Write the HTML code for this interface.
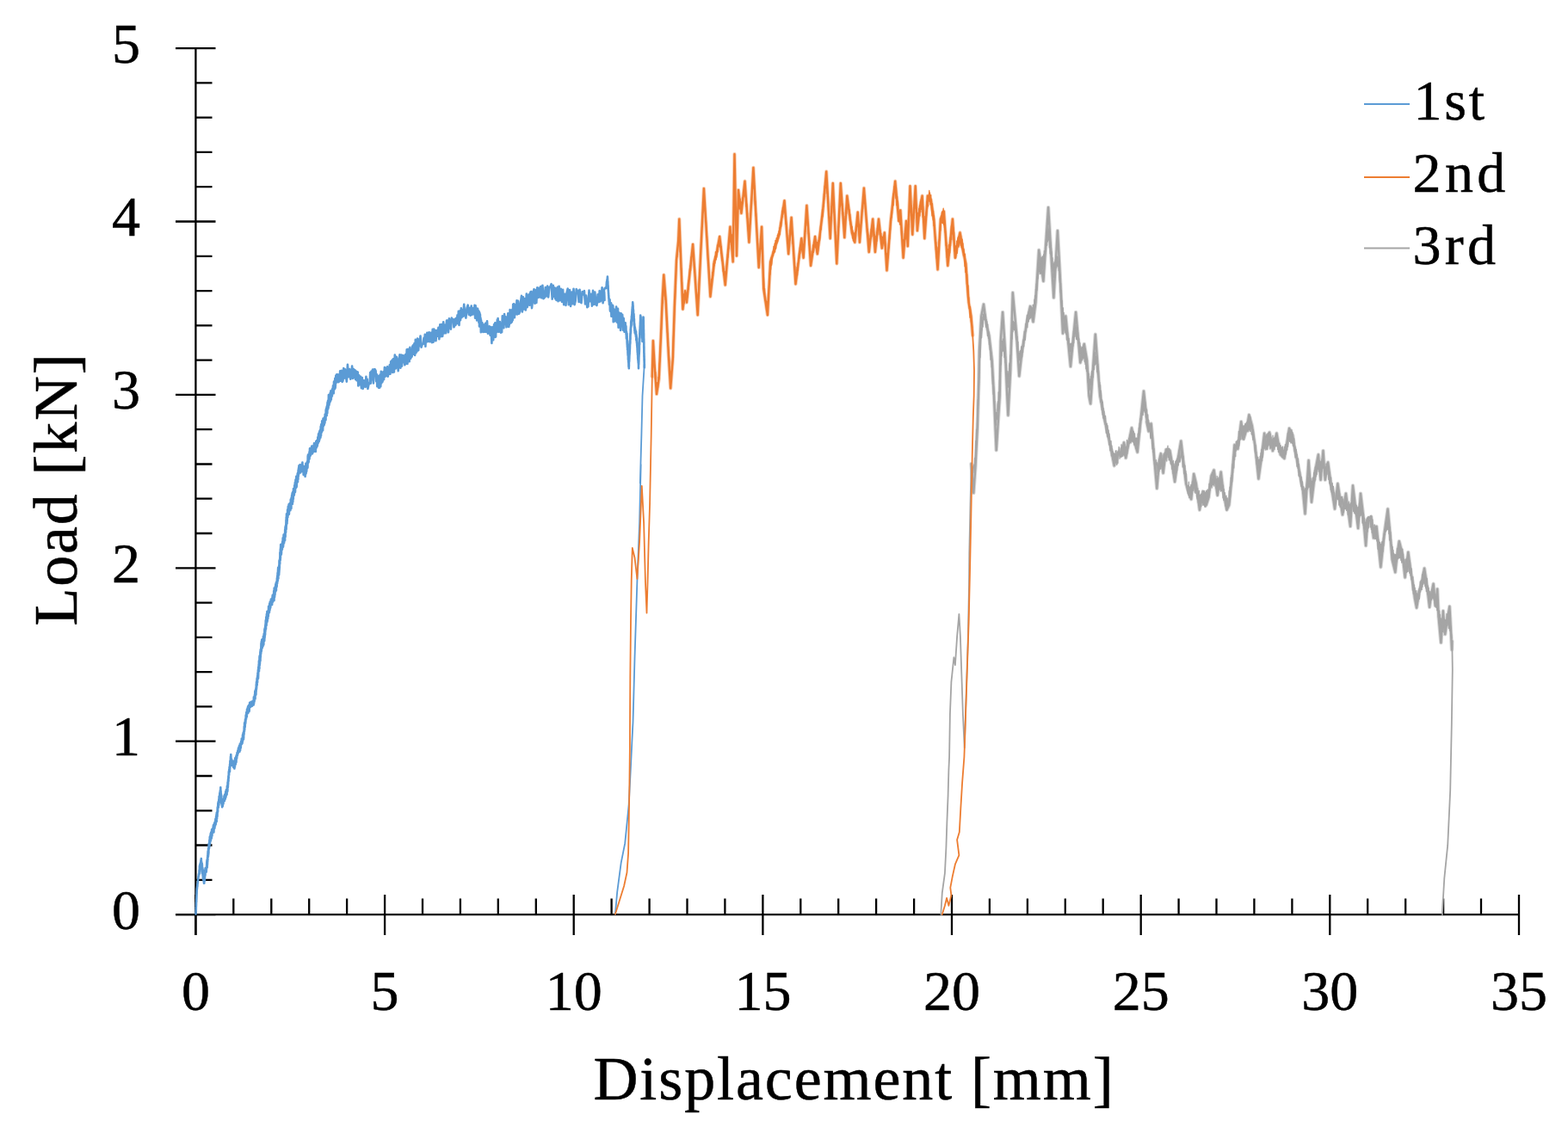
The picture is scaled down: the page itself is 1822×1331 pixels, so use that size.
<!DOCTYPE html>
<html><head><meta charset="utf-8"><title>Load - Displacement</title>
<style>
html,body{margin:0;padding:0;background:#fff;}
svg{display:block;}
text{font-family:"Liberation Serif",serif;fill:#000;stroke:#000;stroke-width:0.5px;}
.t text{font-size:66px;}
.a{font-size:72px;}
</style></head><body>
<svg width="1822" height="1331" viewBox="0 0 1822 1331">
<rect width="1822" height="1331" fill="#fff"/>
<g fill="none" stroke="#000" stroke-width="2.3"><path d="M227.4 56 V1087.1 M204 1063.1 H1765" /><path d="M227.4 1040.1V1087.1M271.3 1044.4V1063.1M315.3 1044.4V1063.1M359.2 1044.4V1063.1M403.1 1044.4V1063.1M447.1 1040.1V1087.1M491.0 1044.4V1063.1M534.9 1044.4V1063.1M578.8 1044.4V1063.1M622.8 1044.4V1063.1M666.7 1040.1V1087.1M710.6 1044.4V1063.1M754.6 1044.4V1063.1M798.5 1044.4V1063.1M842.4 1044.4V1063.1M886.4 1040.1V1087.1M930.3 1044.4V1063.1M974.2 1044.4V1063.1M1018.1 1044.4V1063.1M1062.1 1044.4V1063.1M1106.0 1040.1V1087.1M1149.9 1044.4V1063.1M1193.9 1044.4V1063.1M1237.8 1044.4V1063.1M1281.7 1044.4V1063.1M1325.7 1040.1V1087.1M1369.6 1044.4V1063.1M1413.5 1044.4V1063.1M1457.4 1044.4V1063.1M1501.4 1044.4V1063.1M1545.3 1040.1V1087.1M1589.2 1044.4V1063.1M1633.2 1044.4V1063.1M1677.1 1044.4V1063.1M1721.0 1044.4V1063.1M1765.0 1040.1V1087.1M204 1063.1H250.5M227.4 1022.8H246.5M227.4 982.5H246.5M227.4 942.3H246.5M227.4 902.0H246.5M204 861.7H250.5M227.4 821.4H246.5M227.4 781.1H246.5M227.4 740.9H246.5M227.4 700.6H246.5M204 660.3H250.5M227.4 620.0H246.5M227.4 579.7H246.5M227.4 539.5H246.5M227.4 499.2H246.5M204 458.9H250.5M227.4 418.6H246.5M227.4 378.3H246.5M227.4 338.1H246.5M227.4 297.8H246.5M204 257.5H250.5M227.4 217.2H246.5M227.4 176.9H246.5M227.4 136.7H246.5M227.4 96.4H246.5M204 56.1H250.5" /></g>
<g fill="none" stroke="#5b9bd5" stroke-linejoin="round" stroke-linecap="round"><path d="M227.5,1062.4 227.6,1060.0 227.6,1060.4 227.7,1057.3 227.8,1057.7 227.8,1054.4 227.9,1053.9 228.0,1050.8 228.0,1050.0 228.1,1048.3 228.2,1048.4 228.2,1044.9 228.3,1045.6 228.4,1041.4 228.4,1042.6 228.5,1039.2 228.6,1039.3 228.6,1038.4 228.7,1034.8 228.8,1032.5 228.9,1033.6 229.1,1030.4 229.3,1030.6 229.5,1027.3 229.7,1026.9 229.9,1025.4 230.1,1022.1 230.3,1022.4 230.5,1018.9 230.7,1019.3 230.9,1016.0 231.1,1016.2 231.3,1017.1 231.5,1011.6 231.7,1016.0 231.9,1006.5 232.1,1014.9 232.4,1004.6 232.6,1010.4 232.8,1005.0 233.0,1002.6 233.2,1006.8 233.4,1000.1 233.6,1006.6 233.8,998.0 234.0,1006.5 234.1,1001.6 234.3,1006.7 234.4,1004.4 234.6,1010.7 234.7,1003.6 234.9,1005.3 235.0,1012.5 235.2,1015.3 235.3,1008.6 235.5,1010.8 235.6,1017.8 235.8,1011.3 235.9,1021.1 236.1,1012.8 236.2,1022.7 236.4,1015.8 236.6,1024.1 236.7,1016.5 236.9,1025.4 237.0,1026.6 237.2,1019.0 237.3,1026.7 237.5,1019.2 237.6,1024.7 237.7,1016.5 237.8,1024.1 238.0,1013.7 238.1,1019.5 238.2,1011.6 238.4,1011.7 238.5,1017.5 238.6,1009.2 238.8,1014.2 239.1,1008.8 239.4,1013.1 239.7,1013.7 240.0,1009.3 240.3,1002.5 240.6,999.6 240.7,1008.5 240.8,1005.7 240.9,998.6 241.0,1005.1 241.1,996.4 241.2,1002.1 241.3,994.2 241.4,999.9 241.5,992.5 241.6,990.9 241.7,989.4 241.8,996.2 241.9,989.3 242.0,995.3 242.1,986.2 242.2,993.4 242.3,985.7 242.4,991.9 242.5,983.3 242.6,987.6 242.7,980.5 242.8,981.3 243.0,986.1 243.2,985.1 243.4,976.5 243.6,982.7 243.8,972.9 244.1,980.1 244.3,971.9 244.5,978.1 244.7,969.2 244.9,977.1 245.1,968.1 245.4,967.3 245.8,974.5 246.1,964.3 246.4,971.6 246.8,963.7 247.1,963.2 247.4,967.7 247.8,960.5 248.1,959.0 248.4,967.4 248.8,958.3 249.1,956.9 249.4,962.6 249.8,955.2 250.1,959.6 250.4,952.1 250.7,958.2 251.1,949.0 251.4,954.7 251.5,946.8 251.7,955.1 251.8,944.8 252.0,944.4 252.1,951.8 252.2,944.4 252.4,946.9 252.5,949.0 252.7,940.1 252.8,938.4 253.0,943.9 253.1,943.6 253.2,937.2 253.4,933.3 253.5,939.0 253.7,932.1 253.8,938.6 254.0,932.7 254.1,935.4 254.3,929.3 254.4,935.7 254.6,925.9 254.8,932.9 255.0,925.0 255.1,929.6 255.3,922.0 255.5,929.9 255.7,920.0 255.8,927.2 256.0,918.0 256.2,924.9 256.3,915.4 256.5,925.0 256.6,919.4 256.7,927.2 256.8,922.7 256.9,922.9 257.1,924.1 257.2,929.7 257.3,925.1 257.4,934.4 257.6,928.6 257.7,933.1 257.8,929.3 257.9,937.1 258.0,931.5 258.2,938.3 258.5,931.1 258.8,937.0 259.2,930.9 259.5,934.4 259.8,928.9 260.2,931.4 260.5,925.4 260.9,931.0 261.2,923.5 261.5,929.2 261.9,927.7 262.2,920.2 262.5,926.4 262.9,918.0 263.2,923.9 263.6,923.6 263.9,913.9 264.2,920.2 264.3,913.0 264.4,919.5 264.6,909.4 264.7,914.9 264.8,915.2 264.9,914.6 265.0,906.3 265.1,911.9 265.2,905.3 265.3,908.7 265.4,902.2 265.5,907.9 265.6,901.0 265.7,905.4 265.8,897.0 265.9,898.8 266.1,901.4 266.2,894.7 266.3,899.3 266.5,894.7 266.6,891.5 266.7,897.2 266.9,891.5 267.0,897.0 267.1,888.2 267.3,892.8 267.4,884.6 267.5,890.9 267.6,884.2 267.8,890.3 267.9,881.5 268.0,879.4 268.2,886.2 268.3,877.0 268.6,884.7 269.0,882.2 269.3,889.7 269.6,884.1 270.0,889.5 270.3,884.9 271.2,892.0 272.1,887.2 272.4,893.4 272.6,884.0 272.9,891.6 273.2,881.4 273.4,889.2 273.7,881.2 273.9,888.1 274.2,879.9 274.5,886.0 274.7,878.1 275.0,881.1 275.2,881.5 275.5,875.0 275.9,878.2 276.3,872.6 276.6,876.0 277.0,869.5 277.4,874.3 277.8,868.2 278.1,866.7 278.5,873.7 278.9,864.6 279.2,871.9 279.5,864.5 279.8,869.3 280.1,862.0 280.4,865.5 280.8,858.5 281.1,864.6 281.4,858.8 281.7,863.7 282.0,854.4 282.3,860.6 282.6,852.0 282.9,852.5 283.1,858.9 283.2,850.2 283.3,849.9 283.4,854.0 283.5,853.2 283.7,846.6 283.8,844.0 283.9,850.3 284.0,849.9 284.1,840.5 284.3,848.1 284.4,840.0 284.5,845.3 284.6,839.2 284.7,845.2 284.8,842.0 285.0,836.4 285.1,841.3 285.2,840.8 285.5,837.6 285.7,831.4 286.0,836.2 286.3,828.0 286.5,828.5 286.8,833.1 287.0,824.9 287.3,829.6 287.6,823.3 287.8,829.3 288.1,821.3 288.4,828.6 289.0,819.8 289.6,827.0 290.2,816.7 290.8,816.5 291.4,821.6 292.0,815.7 292.9,820.7 293.8,814.8 294.7,819.5 294.9,810.3 295.1,817.6 295.3,810.4 295.5,815.4 295.7,814.3 295.9,807.7 296.1,812.6 296.3,803.7 296.5,812.5 296.7,802.5 297.0,808.1 297.2,801.2 297.4,807.6 297.5,799.5 297.6,803.6 297.8,795.6 297.9,801.6 298.0,792.9 298.2,799.9 298.3,792.0 298.4,797.0 298.6,788.7 298.7,796.4 298.8,789.5 299.0,787.0 299.1,793.2 299.2,785.6 299.4,788.9 299.5,782.3 299.6,789.4 299.8,787.6 299.9,778.8 300.0,788.6 300.2,783.6 300.3,775.4 300.4,775.1 300.5,780.2 300.7,772.4 300.8,780.3 300.9,768.3 301.0,780.1 301.2,769.9 301.3,775.0 301.4,777.3 301.5,764.2 301.7,762.4 301.8,773.3 301.9,764.3 302.0,771.3 302.2,761.5 302.3,767.6 302.4,757.7 302.5,768.3 302.7,755.4 302.8,763.9 303.0,756.2 303.1,754.2 303.2,760.0 303.4,752.0 303.5,747.9 303.6,757.7 303.8,745.7 303.9,756.1 304.1,744.9 304.2,753.8 304.3,743.5 304.7,753.1 305.1,743.0 305.5,751.2 305.9,739.8 306.3,749.5 306.7,736.8 307.0,738.4 307.2,744.9 307.3,742.8 307.4,731.8 307.5,731.4 307.6,741.2 307.7,730.2 307.8,739.3 307.9,730.4 308.1,737.8 308.2,728.9 308.3,727.1 308.4,733.7 308.5,725.4 308.6,729.5 308.7,723.4 308.8,721.0 309.0,731.2 309.1,719.9 309.2,725.4 309.3,717.2 309.6,727.0 309.9,713.9 310.1,723.7 310.4,710.7 310.7,722.4 311.0,712.1 311.3,719.0 311.5,710.1 311.8,716.5 312.1,704.9 312.4,712.7 312.7,704.6 313.0,711.7 313.2,701.7 313.5,709.2 313.8,699.5 314.2,706.6 314.6,700.8 314.9,696.5 315.3,697.3 315.7,697.5 316.1,703.0 316.4,695.6 316.8,691.7 317.2,699.4 317.4,691.2 317.7,697.5 318.0,697.5 318.2,687.0 318.5,698.0 318.7,683.5 319.0,694.4 319.3,691.3 319.5,691.2 319.8,682.0 320.0,688.4 320.3,679.4 320.6,686.1 320.8,677.6 320.9,686.4 321.1,677.6 321.3,676.4 321.5,682.3 321.7,680.5 321.9,672.0 322.1,678.2 322.3,669.4 322.4,676.7 322.6,665.9 322.8,674.9 323.0,663.6 323.2,659.9 323.4,672.4 323.6,659.9 323.8,669.0 323.9,662.7 324.0,667.0 324.1,657.9 324.2,667.9 324.3,656.9 324.4,665.2 324.5,651.8 324.6,662.7 324.7,652.6 324.8,660.2 324.9,650.8 325.0,650.7 325.1,649.8 325.2,655.7 325.3,647.4 325.4,651.7 325.4,642.3 325.5,650.6 325.6,642.5 325.7,651.3 325.8,638.6 325.9,649.1 326.0,636.7 326.1,643.2 326.2,633.1 326.5,643.2 326.8,644.7 327.0,642.6 327.3,632.6 327.6,632.4 327.9,638.8 328.2,629.5 328.5,635.6 328.7,625.3 329.0,635.6 329.3,632.0 329.6,621.5 329.9,624.5 330.1,631.1 330.4,621.8 330.7,620.3 330.8,625.6 331.0,619.7 331.1,628.2 331.2,615.7 331.3,623.3 331.5,612.9 331.6,623.9 331.7,611.9 331.8,619.2 332.0,611.5 332.1,619.0 332.2,610.1 332.3,613.4 332.5,604.2 332.6,615.2 332.7,601.3 332.8,611.3 333.0,597.3 333.1,608.4 333.2,598.9 333.3,608.4 333.5,608.7 333.6,597.4 333.7,605.9 333.8,602.2 334.0,602.0 334.1,592.6 334.5,600.9 334.8,588.7 335.2,596.7 335.6,586.3 335.9,597.6 336.3,585.6 336.7,593.0 337.0,586.2 337.4,593.2 337.8,580.5 338.1,581.3 338.4,591.1 338.6,578.6 338.9,586.2 339.1,575.7 339.3,585.3 339.6,573.3 339.8,586.0 340.1,572.3 340.3,583.4 340.5,571.6 340.8,580.4 341.0,568.1 341.3,575.5 341.5,568.8 341.7,575.9 342.0,573.6 342.2,564.3 342.5,571.3 342.8,561.1 343.0,572.0 343.3,561.4 343.5,557.6 343.8,565.9 344.1,566.9 344.3,553.8 344.6,566.1 344.8,564.1 345.1,553.9 345.4,560.1 345.6,552.6 345.8,550.2 346.0,560.3 346.2,549.5 346.4,557.2 346.6,546.4 346.8,553.6 347.0,544.1 347.2,551.2 347.4,541.4 347.6,548.9 348.5,540.2 349.3,549.4 350.1,540.4 351.0,546.2 351.4,537.5 351.8,548.1 352.3,541.6 352.7,552.0 353.1,542.1 353.5,550.4 353.9,543.2 354.4,543.4 354.6,554.0 354.9,543.4 355.1,551.8 355.4,538.7 355.7,549.9 355.9,541.2 356.2,547.9 356.4,544.7 356.7,544.5 357.0,536.5 357.2,544.2 357.5,543.1 357.7,530.4 358.0,528.6 358.2,538.2 358.5,530.8 358.7,537.0 359.0,528.8 359.2,534.1 359.5,525.4 359.7,532.9 360.0,521.3 360.8,529.7 361.5,522.0 362.3,518.5 363.0,527.5 363.8,518.3 364.5,525.3 365.0,515.4 365.4,519.0 365.9,523.8 366.3,515.8 366.8,525.0 367.2,513.1 367.7,520.4 368.1,512.0 368.6,518.8 369.0,516.4 369.3,508.4 369.6,515.3 369.9,507.5 370.1,504.4 370.4,505.1 370.7,513.2 371.0,502.2 371.3,511.3 371.5,500.7 371.8,506.6 372.1,499.8 372.4,508.6 372.7,495.8 373.0,506.5 373.2,493.2 373.5,495.9 373.8,502.5 374.2,489.3 374.5,489.6 374.8,500.2 375.1,500.4 375.5,486.6 375.8,495.5 376.1,487.9 376.4,492.1 376.7,494.0 377.1,485.0 377.4,491.6 377.7,481.6 378.0,487.5 378.3,481.5 378.5,488.2 378.7,476.3 378.9,483.3 379.2,474.7 379.4,481.6 379.6,473.0 379.8,482.9 380.1,471.2 380.3,480.2 380.5,468.0 380.7,475.0 381.0,466.0 381.2,475.4 381.4,465.2 381.6,474.4 381.9,459.1 382.1,471.4 382.3,462.7 382.5,470.6 382.9,460.4 383.3,467.7 383.7,456.7 384.0,466.2 384.4,454.2 384.8,464.5 385.2,455.7 385.5,453.5 385.9,460.5 386.3,451.7 386.7,457.1 387.0,448.2 387.4,457.0 387.7,457.2 388.0,443.7 388.3,452.6 388.7,442.7 389.0,452.3 389.3,439.7 389.6,450.8 389.9,447.1 390.3,436.6 390.6,440.2 390.9,443.9 391.2,435.2 391.5,444.4 392.5,435.2 393.4,444.2 394.3,443.0 395.2,431.2 396.1,442.6 396.9,430.9 397.7,443.9 398.5,442.5 399.3,428.0 400.1,439.7 400.9,429.2 401.7,434.7 402.8,443.6 403.9,423.9 405.1,438.2 406.2,429.1 407.3,440.7 408.2,437.3 409.1,425.6 410.0,439.9 410.9,429.0 411.8,439.0 412.5,430.3 413.1,441.0 413.8,431.6 414.4,442.3 415.1,434.5 415.7,432.4 416.3,448.4 417.2,436.2 418.1,447.1 419.0,437.7 419.9,451.2 420.8,439.1 421.7,452.0 422.6,442.3 423.5,442.5 424.5,450.0 425.4,437.9 426.0,449.2 426.7,440.8 427.4,452.0 428.1,448.4 428.7,446.4 429.2,444.9 429.7,444.7 430.2,433.1 430.7,445.6 431.1,440.4 431.6,431.5 432.1,441.1 433.0,429.6 433.9,445.4 434.8,429.2 435.7,429.3 436.6,431.1 437.2,443.3 437.7,435.0 438.3,449.1 438.9,448.0 439.4,437.1 440.0,450.8 440.6,436.7 441.1,450.8 441.7,435.6 442.3,449.3 442.8,431.9 443.4,445.1 443.9,434.5 444.5,443.8 445.3,432.3 446.1,441.1 446.9,427.0 447.7,437.6 448.5,427.9 449.3,436.9 450.1,426.2 450.8,437.7 451.5,427.2 452.2,434.9 452.8,424.4 453.5,434.8 454.2,420.2 454.9,431.4 455.5,418.9 456.2,432.9 456.9,417.3 457.9,432.4 458.8,412.6 459.8,428.5 460.8,414.7 461.7,419.5 462.7,431.1 463.7,417.8 464.5,412.2 465.4,427.8 466.2,412.5 467.0,425.7 467.9,413.1 468.7,421.2 469.6,413.6 470.4,424.3 471.2,412.0 471.9,422.7 472.7,406.4 473.4,422.9 474.2,405.9 474.9,406.7 475.7,420.1 476.4,403.8 477.2,416.8 477.9,406.4 478.6,414.8 479.3,402.6 480.0,401.4 480.7,411.6 481.4,399.2 482.1,412.9 482.8,394.7 483.4,410.3 483.9,395.8 484.5,408.4 485.1,393.5 485.6,404.9 486.2,407.3 486.8,394.6 487.3,402.4 488.5,390.6 489.6,403.7 490.7,399.9 491.8,399.9 492.5,392.9 493.1,398.7 493.8,388.7 494.4,402.6 495.1,388.8 495.7,397.4 496.3,386.9 497.5,397.0 498.6,386.2 499.7,397.3 500.8,386.7 502.0,398.1 502.7,382.8 503.5,397.7 504.2,382.6 505.0,395.9 505.7,384.0 506.5,396.1 507.4,384.0 508.4,390.8 509.4,380.8 510.3,394.1 511.3,377.3 512.3,391.2 513.2,377.0 514.2,390.9 515.2,374.3 516.1,387.4 517.1,377.7 518.1,387.3 519.0,372.6 520.0,372.6 521.0,386.3 521.9,370.3 522.9,373.7 523.9,382.7 524.8,369.6 525.8,372.0 526.8,371.3 527.4,380.3 528.1,379.2 528.8,370.9 529.5,377.8 530.1,369.8 530.8,376.0 531.5,366.4 532.2,376.2 532.8,361.9 533.5,377.9 534.3,361.5 535.0,372.1 535.8,358.4 536.5,369.2 537.3,360.5 538.0,367.8 539.2,353.8 540.3,366.5 541.4,369.6 542.5,358.1 543.7,354.7 544.8,365.6 545.8,358.0 546.7,366.8 547.7,355.5 548.7,365.7 549.6,358.3 550.6,365.2 551.5,354.8 552.1,369.6 552.6,355.4 553.1,368.4 553.6,358.3 554.1,372.5 554.6,368.6 555.1,358.9 555.6,371.4 556.1,361.3 556.4,374.9 556.7,362.2 557.0,379.4 557.3,363.6 557.6,378.1 557.9,365.6 558.2,378.3 558.5,369.8 558.8,386.2 559.1,372.2 559.4,385.2 560.4,375.3 561.3,386.0 562.3,377.5 563.2,385.8 564.1,375.9 565.1,385.8 566.0,373.2 566.9,387.6 567.8,387.4 568.7,379.3 569.6,389.6 570.5,380.3 571.4,399.0 572.3,380.2 573.2,395.2 574.1,377.2 574.5,376.7 574.9,390.2 575.3,375.4 575.7,391.9 576.1,391.3 576.5,375.2 577.0,385.8 577.4,386.0 577.8,371.7 578.2,385.1 578.6,370.1 579.7,385.8 580.8,374.0 582.0,386.7 583.1,386.1 583.8,367.4 584.6,380.5 585.4,381.1 586.1,365.0 586.9,377.0 587.6,368.3 588.5,380.3 589.4,379.0 590.3,364.2 591.2,380.0 592.1,375.2 592.6,360.0 593.0,361.7 593.5,373.9 593.9,375.3 594.4,360.9 594.8,374.1 595.3,359.8 595.7,372.2 596.2,353.9 596.6,369.2 597.3,353.4 597.9,369.3 598.6,355.0 599.2,354.3 599.8,365.3 600.5,349.2 601.1,365.4 602.1,349.8 603.1,364.7 604.0,362.6 605.0,351.5 606.0,343.9 606.9,362.4 607.9,345.2 608.9,359.5 609.8,347.3 610.8,360.4 611.8,341.5 612.7,357.2 613.7,346.3 614.6,342.2 615.5,354.8 616.3,339.7 617.2,338.8 618.0,358.1 618.9,350.2 619.7,339.0 620.6,336.2 621.4,352.8 622.4,337.0 623.3,351.9 624.3,334.4 625.3,346.0 626.2,334.7 627.2,345.4 628.2,333.1 629.3,346.3 630.4,331.7 631.5,347.2 632.7,346.0 633.8,334.1 634.9,344.4 636.1,332.6 637.2,345.5 638.3,333.8 639.4,333.5 640.6,330.2 641.7,347.7 642.8,331.7 643.9,344.7 644.6,334.5 645.2,347.3 645.9,335.2 646.5,348.9 647.2,347.8 647.8,333.9 648.5,350.2 649.6,332.7 650.7,349.2 651.8,335.7 653.0,350.9 654.1,336.9 655.2,354.1 656.3,341.8 657.5,355.0 658.6,340.0 659.7,335.5 660.8,354.1 662.0,337.0 663.1,355.9 664.2,339.5 665.4,353.2 666.5,335.7 667.6,354.2 668.7,349.7 669.7,336.0 670.7,339.4 671.6,337.8 672.6,351.0 673.6,336.7 674.5,351.3 675.5,352.1 676.6,339.1 677.7,342.4 678.9,338.0 680.0,353.4 681.1,343.5 682.3,357.2 683.4,356.3 684.5,337.5 685.6,350.2 686.8,341.9 687.9,355.7 689.0,337.9 690.1,353.9 691.3,339.6 692.4,354.0 693.5,355.0 694.6,342.3 695.8,351.2 696.7,338.0 697.7,350.4 698.7,347.5 699.6,334.2 700.6,352.2 701.6,336.7 702.5,349.0 702.2,339.9 701.8,337.5 701.4,339.1 702.9,334.8 704.4,335.0 704.6,334.4 704.8,330.1 705.0,327.4 705.3,328.8 705.5,324.5 705.7,325.7 705.9,321.6 706.0,323.3 706.1,326.6 706.2,326.8 706.3,327.1 706.4,331.6 706.5,331.4 706.6,332.6 706.7,335.9 706.8,338.4 706.9,337.5 707.0,341.5 707.1,340.3 707.2,344.0 707.3,343.1 707.4,346.9 707.5,345.9 707.7,350.6 707.8,350.1 708.0,354.0 708.2,353.4 708.6,348.2 708.9,361.0 709.3,361.8 709.7,352.3 710.1,352.2 710.4,367.8 710.8,366.6 711.2,367.0 711.6,366.1 711.9,354.7 712.3,355.7 712.7,374.2 713.8,359.9 714.9,373.5 716.1,356.5 716.7,372.2 717.3,375.0 718.0,358.9 718.6,380.7 719.2,363.3 719.8,376.8 720.5,364.3 721.1,384.0 721.7,364.3 722.5,378.1 723.2,365.8 724.0,383.7 724.7,370.1 725.5,385.7 726.2,381.9 726.4,375.3 726.5,382.1 726.7,375.4 726.8,383.5 727.0,378.5 727.1,378.3 727.3,386.1 727.4,379.4 727.6,388.8 727.7,385.1 727.9,393.4 728.0,385.5 728.2,393.1 728.3,394.3 728.5,387.8 728.6,398.6 728.6,390.3 728.7,399.3 728.8,401.2 728.8,396.1 728.9,403.5 729.0,396.0 729.1,398.1 729.1,406.6 729.2,399.8 729.3,400.1 729.4,406.5 729.4,403.7 729.5,410.9 729.6,406.4 729.6,413.1 729.7,407.4 729.8,412.8 729.9,408.2 729.9,418.0 730.0,409.9 730.1,418.9 730.2,412.4 730.2,420.9 730.3,413.7 730.4,422.3 730.4,418.7 730.5,426.2 730.6,418.4 730.7,426.2 730.7,421.3 730.8,428.2 730.8,419.2 730.9,425.9 730.9,416.9 731.0,420.9 731.1,413.8 731.1,420.7 731.2,414.5 731.2,419.6 731.3,412.1 731.3,416.7 731.4,408.8 731.4,413.9 731.5,407.6 731.5,412.6 731.6,403.3 731.6,411.7 731.7,407.8 731.8,406.8 731.8,407.9 731.9,398.6 731.9,406.2 732.0,402.4 732.0,396.5 732.1,400.7 732.1,395.1 732.2,399.7 732.2,393.2 732.3,398.9 732.3,392.2 732.4,387.7 732.5,394.5 732.5,387.0 732.6,387.3 732.6,390.2 732.7,384.8 732.7,382.2 732.8,387.1 732.8,382.8 732.9,387.4 732.9,380.1 733.0,386.2 733.1,378.8 733.2,377.7 733.2,373.9 733.3,380.2 733.4,380.1 733.5,372.1 733.6,378.8 733.7,371.1 733.8,374.0 733.9,367.5 733.9,372.8 734.0,372.0 734.1,372.4 734.2,365.6 734.3,371.1 734.4,363.4 734.5,361.5 734.5,365.3 734.6,359.3 734.7,363.5 734.8,356.8 734.9,357.5 735.0,362.9 735.1,353.6 735.2,361.2 735.2,351.2 735.3,358.2 735.4,352.6 735.5,363.1 735.6,354.9 735.7,364.2 735.8,366.4 735.8,359.0 735.9,365.3 736.0,360.4 736.1,368.6 736.2,370.0 736.3,370.6 736.4,370.3 736.5,365.1 736.5,373.9 736.6,367.1 736.7,377.5 736.8,370.5 736.9,370.9 737.0,378.9 737.1,378.7 737.2,375.9 737.2,381.2 737.3,377.1 737.4,384.6 737.5,379.0 737.7,387.0 737.9,380.8 738.1,386.9 738.3,383.0 738.5,388.9 738.7,385.6 738.9,391.4 739.1,385.2 739.3,395.5 739.5,389.1 739.8,395.1 739.8,397.8 739.9,392.0 740.0,399.2 740.1,393.4 740.1,394.4 740.2,401.9 740.3,397.3 740.4,403.9 740.4,400.1 740.5,400.7 740.6,407.2 740.7,401.3 740.7,409.6 740.8,403.0 740.9,411.5 741.0,405.6 741.0,412.8 741.1,407.0 741.2,417.0 741.3,416.7 741.3,412.5 741.4,418.7 741.5,412.0 741.6,420.5 741.6,416.3 741.7,422.1 741.8,418.1 741.9,423.2 741.9,418.2 742.0,428.2 742.0,420.7 742.1,424.2 742.1,418.1 742.2,423.7 742.2,415.0 742.3,420.8 742.3,412.6 742.3,421.3 742.4,411.0 742.4,415.5 742.5,408.6 742.5,414.3 742.5,407.8 742.6,411.8 742.6,405.1 742.7,411.7 742.7,403.1 742.8,408.5 742.8,409.0 742.8,409.8 742.9,406.5 742.9,399.0 743.0,398.6 743.0,400.8 743.1,393.2 743.1,400.7 743.1,393.8 743.2,397.0 743.2,391.9 743.3,390.7 743.3,394.5 743.3,387.2 743.4,393.7 743.4,386.4 743.5,384.8 743.5,383.3 743.6,387.9 743.6,382.7 743.6,386.1 743.7,379.4 743.7,386.1 743.8,383.5 743.8,378.1 743.8,382.6 743.9,375.1 743.9,380.2 744.0,373.2 744.0,379.8 744.1,370.7 744.1,378.7 744.1,368.8 744.2,373.5 744.2,366.5 744.3,372.1 744.4,368.2 744.5,373.7 744.6,368.1 744.7,371.3 744.8,375.8 744.8,371.5 744.9,381.4 745.0,375.6 745.1,382.5 745.2,375.1 745.3,382.5 745.4,378.1 745.5,386.2 745.6,380.5 745.7,389.1 745.8,381.3 745.9,388.9 746.0,385.2 746.1,392.2 746.2,387.1 746.3,393.3 746.4,388.7 746.5,396.9 746.6,386.8 746.6,394.5 746.7,386.7 746.7,392.4 746.8,390.8 746.8,381.9 746.9,388.9 746.9,382.8 747.0,387.4 747.0,384.6 747.1,378.6 747.1,377.9 747.2,381.8 747.2,374.8 747.3,382.1 747.3,371.8 747.4,378.7 747.4,369.1 747.5,376.4 747.5,368.5 747.6,373.6 747.6,372.9 747.7,373.6 747.7,368.9 747.7,377.9 747.7,371.7 747.7,379.7 747.8,372.3 747.8,379.3 747.8,375.6 747.8,382.2 747.8,377.5 747.9,386.2 747.9,377.8 747.9,380.3 747.9,387.1 747.9,386.8 748.0,383.3 748.0,391.0 748.0,386.0 748.0,394.2 748.0,387.7 748.1,393.7 748.1,387.5 748.1,397.4 748.1,398.2 748.1,393.2 748.2,393.9 748.2,400.7 748.2,400.2 748.2,397.4 748.2,404.6 748.3,397.6 748.3,399.5 748.3,406.4 748.3,402.7 748.3,410.4 748.4,402.8 748.4,411.2 748.4,410.1 748.4,405.3 748.4,414.7 748.5,415.3 748.5,410.8 748.5,416.9 748.5,410.6 748.5,419.1 748.6,413.8 748.6,420.7 748.6,416.8 748.6,421.6 748.7,416.9 748.7,426.4 748.7,416.9 748.7,426.0 748.7,420.0 748.8,427.3 748.8,422.9" stroke-width="2.6"/><path d="M748.8,422.9 746.5,460.4 745.4,505.5 743.8,561.8 744.7,540.0 743.1,607.6 740.4,675.3 737.5,765.5 735.5,840.1 735.2,845.1 733.0,890.2 730.7,935.3 726.2,980.4 721.7,1002.9 717.2,1036.8 714.9,1062.7" stroke-width="1.8"/></g>
<g fill="none" stroke="#a5a5a5" stroke-linejoin="round" stroke-linecap="round"><path d="M1128.6,539.2 1131.3,573.0 1133.5,541.4 1135.8,496.3 1137.4,440.0 1138.0,407.9 1140.3,367.4 1143.0,353.8 1145.9,376.4 1149.3,389.9 1152.7,419.2 1155.0,460.0 1157.7,523.4 1161.7,460.0 1162.8,396.7 1165.1,362.9 1168.0,407.9 1170.3,460.0 1171.4,482.8 1174.1,430.5 1176.8,340.3 1180.9,385.4 1184.3,437.2 1187.6,407.9 1193.3,374.1 1197.1,356.1 1200.5,374.1 1203.4,351.6 1207.2,290.7 1212.4,326.8 1218.1,241.1 1224.4,346.0 1228.9,268.2 1231.6,317.8 1235.0,387.6 1238.3,367.4 1244.0,426.0 1250.1,362.9 1255.3,421.5 1259.8,400.0 1263.1,419.2 1265.4,460.0 1267.2,469.3 1269.9,430.5 1272.8,388.8 1276.7,441.7 1278.2,460.0 1280.0,469.3 1283.4,487.3 1287.9,507.6 1291.3,523.4 1294.7,541.4 1299.2,525.6 1302.6,530.2 1306.0,514.4 1308.2,532.4 1311.6,514.4 1315.0,497.5 1318.4,514.4 1321.7,525.6 1325.1,491.8 1329.0,454.7 1333.0,491.8 1337.5,500.9 1332.4,490.2 1334.7,501.4 1337.6,492.4 1340.7,526.2 1344.3,567.9 1347.0,535.2 1348.9,527.3 1351.6,549.9 1354.9,522.8 1359.4,524.0 1361.7,537.5 1365.1,560.0 1368.5,535.2 1372.3,512.7 1375.2,537.5 1378.2,562.3 1380.9,571.3 1384.2,580.3 1387.2,551.0 1389.9,562.3 1393.9,592.7 1397.8,571.3 1401.6,587.1 1404.5,578.1 1407.5,553.3 1410.6,546.5 1414.7,575.8 1418.7,548.8 1421.4,571.3 1425.5,592.7 1428.2,587.1 1431.6,553.3 1434.5,517.2 1438.3,521.7 1442.2,490.2 1445.1,510.4 1448.5,499.2 1451.4,482.3 1454.8,494.7 1458.6,519.5 1462.4,556.6 1465.4,535.2 1469.2,503.7 1472.1,521.7 1475.1,502.6 1478.9,524.0 1483.4,503.7 1487.9,528.5 1492.4,533.0 1498.1,498.0 1502.1,505.9 1504.8,524.0 1508.2,539.7 1511.6,557.8 1513.8,569.0 1516.5,597.2 1520.6,535.2 1524.0,583.7 1528.5,546.5 1531.9,528.5 1534.6,557.8 1537.5,524.0 1539.8,557.8 1543.1,537.5 1546.5,562.3 1551.0,591.6 1554.4,562.3 1560.0,598.3 1563.9,573.6 1569.1,611.9 1572.0,564.5 1578.1,614.1 1581.0,573.6 1583.7,596.1 1587.1,634.4 1589.3,602.9 1593.2,600.6 1596.1,625.4 1599.5,611.9 1604.4,659.2 1608.5,620.9 1612.6,591.6 1615.3,620.1 1617.6,650.2 1621.3,665.2 1623.6,644.1 1625.8,629.1 1629.6,644.1 1632.6,671.2 1636.3,641.9 1639.4,665.2 1641.6,677.2 1643.9,695.2 1646.1,706.5 1649.1,687.7 1652.1,677.2 1655.1,660.7 1658.1,680.2 1661.1,705.8 1663.4,689.2 1665.6,678.7 1667.9,704.3 1670.2,684.7 1671.7,717.8 1674.4,747.1 1676.9,710.3 1679.2,737.3 1682.2,717.8 1684.4,705.0 1685.9,732.8 1687.0,755.3 1687.3,745.1" stroke-width="4.4" stroke-opacity="0.45"/><path d="M1128.6,546.6 1129.0,548.6 1129.4,549.4 1129.8,546.3 1130.2,552.6 1130.6,544.4 1131.0,541.6 1131.4,543.6 1131.8,539.9 1132.2,549.4 1132.6,532.5 1133.0,540.6 1133.4,532.7 1133.8,512.5 1134.2,520.6 1134.6,499.1 1135.0,505.6 1135.4,494.5 1135.8,477.2 1136.2,464.5 1136.6,471.4 1137.0,449.2 1137.4,453.0 1137.8,441.5 1138.2,431.4 1138.6,407.4 1139.0,415.7 1139.4,406.5 1139.8,390.0 1140.2,381.3 1140.6,392.8 1141.0,385.6 1141.4,382.6 1141.8,368.6 1142.2,380.0 1142.6,365.4 1143.0,371.7 1143.4,358.5 1143.8,360.3 1144.2,371.9 1144.6,364.8 1145.0,365.5 1145.4,367.3 1145.8,380.3 1146.2,371.6 1146.6,374.8 1147.0,373.8 1147.4,390.4 1147.8,376.9 1148.2,390.3 1148.6,393.4 1149.0,385.7 1149.4,400.6 1149.8,396.0 1150.2,406.7 1150.6,403.2 1151.0,418.2 1151.4,407.8 1151.8,409.6 1152.2,427.0 1152.6,422.4 1153.0,438.1 1153.4,446.6 1153.8,441.7 1154.2,458.3 1154.6,449.6 1155.0,465.6 1155.4,469.4 1155.8,466.3 1156.2,481.8 1156.6,475.3 1157.0,487.8 1157.4,494.2 1157.8,479.7 1158.2,487.6 1158.6,486.9 1159.0,470.2 1159.4,466.7 1159.8,477.4 1160.2,455.8 1160.6,455.7 1161.0,465.1 1161.4,441.8 1161.8,451.6 1162.2,427.0 1162.6,431.9 1163.0,415.2 1163.4,424.0 1163.8,405.7 1164.2,413.8 1164.6,396.3 1165.0,408.6 1165.4,394.0 1165.8,407.7 1166.2,397.3 1166.6,410.3 1167.0,415.5 1167.4,404.7 1167.8,405.0 1168.2,421.7 1168.6,414.7 1169.0,433.6 1169.4,423.5 1169.8,440.5 1170.2,431.3 1170.6,445.3 1171.0,435.3 1171.4,450.2 1171.8,432.0 1172.2,445.3 1172.6,424.3 1173.0,421.9 1173.4,428.6 1173.8,412.8 1174.2,426.3 1174.6,418.7 1175.0,399.1 1175.4,403.6 1175.8,386.1 1176.2,394.0 1176.6,374.4 1177.0,385.8 1177.4,373.3 1177.8,382.9 1178.2,374.3 1178.6,383.6 1179.0,383.8 1179.4,374.9 1179.8,385.9 1180.2,389.1 1180.6,394.5 1181.0,392.5 1181.4,384.9 1181.8,402.8 1182.2,391.2 1182.6,409.4 1183.0,397.5 1183.4,418.6 1183.8,417.4 1184.2,411.0 1184.6,418.7 1185.0,408.4 1185.4,420.4 1185.8,407.5 1186.2,422.3 1186.6,402.8 1187.0,416.1 1187.4,402.9 1187.8,414.8 1188.2,401.9 1188.6,409.7 1189.0,394.8 1189.4,403.3 1189.8,402.3 1190.2,385.1 1190.6,394.6 1191.0,385.4 1191.4,395.2 1191.8,376.2 1192.2,385.2 1192.6,375.9 1193.0,370.5 1193.4,366.1 1193.8,380.8 1194.2,368.7 1194.6,374.0 1195.0,362.5 1195.4,373.9 1195.8,360.5 1196.2,370.6 1196.6,370.9 1197.0,359.3 1197.4,369.6 1197.8,361.1 1198.2,356.5 1198.6,368.9 1199.0,368.1 1199.4,358.0 1199.8,367.7 1200.2,354.1 1200.6,368.8 1201.0,354.3 1201.4,361.3 1201.8,348.2 1202.2,357.6 1202.6,343.5 1203.0,353.7 1203.4,336.4 1203.8,345.7 1204.2,329.8 1204.6,336.8 1205.0,337.7 1205.4,334.1 1205.8,318.3 1206.2,323.9 1206.6,312.2 1207.0,310.4 1207.4,315.9 1207.8,302.0 1208.2,318.7 1208.6,303.3 1209.0,301.7 1209.4,318.0 1209.8,300.1 1210.2,299.1 1210.6,301.8 1211.0,317.0 1211.4,297.8 1211.8,312.4 1212.2,310.1 1212.6,295.8 1213.0,307.1 1213.4,291.6 1213.8,303.2 1214.2,295.9 1214.6,296.2 1215.0,283.0 1215.4,292.3 1215.8,276.1 1216.2,285.6 1216.6,285.3 1217.0,271.6 1217.4,280.9 1217.8,263.9 1218.2,279.1 1218.6,266.5 1219.0,271.1 1219.4,287.9 1219.8,273.4 1220.2,294.7 1220.6,281.5 1221.0,295.8 1221.4,287.6 1221.8,293.0 1222.2,292.8 1222.6,307.6 1223.0,299.7 1223.4,314.9 1223.8,307.7 1224.2,306.7 1224.6,322.8 1225.0,304.6 1225.4,305.9 1225.8,317.4 1226.2,302.0 1226.6,314.2 1227.0,297.2 1227.4,297.5 1227.8,311.2 1228.2,298.0 1228.6,309.1 1229.0,298.7 1229.4,309.7 1229.8,303.8 1230.2,314.7 1230.6,309.5 1231.0,324.7 1231.4,328.5 1231.8,319.4 1232.2,339.9 1232.6,329.2 1233.0,348.5 1233.4,337.2 1233.8,355.7 1234.2,349.1 1234.6,365.7 1235.0,360.7 1235.4,357.8 1235.8,376.5 1236.2,363.3 1236.6,382.1 1237.0,369.0 1237.4,372.6 1237.8,386.9 1238.2,373.2 1238.6,388.8 1239.0,375.8 1239.4,395.0 1239.8,383.8 1240.2,395.6 1240.6,386.1 1241.0,399.9 1241.4,400.3 1241.8,402.6 1242.2,393.5 1242.6,407.4 1243.0,400.1 1243.4,408.3 1243.8,399.3 1244.2,411.8 1244.6,399.6 1245.0,399.0 1245.4,408.1 1245.8,408.2 1246.2,401.7 1246.6,391.3 1247.0,402.2 1247.4,385.0 1247.8,398.8 1248.2,386.1 1248.6,384.1 1249.0,391.3 1249.4,377.8 1249.8,387.7 1250.2,380.7 1250.6,394.3 1251.0,378.3 1251.4,394.6 1251.8,380.5 1252.2,395.6 1252.6,386.2 1253.0,399.2 1253.4,392.8 1253.8,393.9 1254.2,406.1 1254.6,398.0 1255.0,399.1 1255.4,411.8 1255.8,402.4 1256.2,416.7 1256.6,404.8 1257.0,415.7 1257.4,403.4 1257.8,418.8 1258.2,406.4 1258.6,416.7 1259.0,401.0 1259.4,407.5 1259.8,414.5 1260.2,420.8 1260.6,405.6 1261.0,423.4 1261.4,414.7 1261.8,428.8 1262.2,416.2 1262.6,431.7 1263.0,422.6 1263.4,423.9 1263.8,428.0 1264.2,444.7 1264.6,432.3 1265.0,445.2 1265.4,434.5 1265.8,454.3 1266.2,440.8 1266.6,441.5 1267.0,452.8 1267.4,437.4 1267.8,447.2 1268.2,434.4 1268.6,431.5 1269.0,444.6 1269.4,439.0 1269.8,424.6 1270.2,438.7 1270.6,418.2 1271.0,418.7 1271.4,429.7 1271.8,411.3 1272.2,424.4 1272.6,409.6 1273.0,423.4 1273.4,421.7 1273.8,415.1 1274.2,414.0 1274.6,432.3 1275.0,418.4 1275.4,434.4 1275.8,423.5 1276.2,427.1 1276.6,432.4 1277.0,449.9 1277.4,450.0 1277.8,444.3 1278.2,457.3 1278.6,447.7 1279.0,467.5 1279.4,454.1 1279.8,459.4 1280.2,476.4 1280.6,465.0 1281.0,482.1 1281.4,467.2 1281.8,486.0 1282.2,474.6 1282.6,486.8 1283.0,478.1 1283.4,490.8 1283.8,483.7 1284.2,493.4 1284.6,483.5 1285.0,499.2 1285.4,503.6 1285.8,493.6 1286.2,492.3 1286.6,507.8 1287.0,494.6 1287.4,500.7 1287.8,499.7 1288.2,500.5 1288.6,517.1 1289.0,504.1 1289.4,508.0 1289.8,523.8 1290.2,522.0 1290.6,512.5 1291.0,512.7 1291.4,530.1 1291.8,517.9 1292.2,520.9 1292.6,522.0 1293.0,534.5 1293.4,524.9 1293.8,536.3 1294.2,526.6 1294.6,538.7 1295.0,538.3 1295.4,527.6 1295.8,537.4 1296.2,524.1 1296.6,535.5 1297.0,523.7 1297.4,536.5 1297.8,540.5 1298.2,538.2 1298.6,526.6 1299.0,538.6 1299.4,526.0 1299.8,524.3 1300.2,519.4 1300.6,522.6 1301.0,533.3 1301.4,530.1 1301.8,531.4 1302.2,520.6 1302.6,530.9 1303.0,516.7 1303.4,517.9 1303.8,530.6 1304.2,519.4 1304.6,530.2 1305.0,520.2 1305.4,528.3 1305.8,517.5 1306.2,529.9 1306.6,525.9 1307.0,516.2 1307.4,526.2 1307.8,530.2 1308.2,529.7 1308.6,519.1 1309.0,526.3 1309.4,511.5 1309.8,527.4 1310.2,513.7 1310.6,521.6 1311.0,512.1 1311.4,519.2 1311.8,509.7 1312.2,509.2 1312.6,515.5 1313.0,505.1 1313.4,514.0 1313.8,501.6 1314.2,515.0 1314.6,501.7 1315.0,499.8 1315.4,513.0 1315.8,502.5 1316.2,514.1 1316.6,512.5 1317.0,501.2 1317.4,501.9 1317.8,517.2 1318.2,515.1 1318.6,504.0 1319.0,516.8 1319.4,509.7 1319.8,521.5 1320.2,508.9 1320.6,518.7 1321.0,521.5 1321.4,509.4 1321.8,516.0 1322.2,504.1 1322.6,514.5 1323.0,502.4 1323.4,497.2 1323.8,505.9 1324.2,491.9 1324.6,502.9 1325.0,486.5 1325.4,494.0 1325.8,480.6 1326.2,488.5 1326.6,487.3 1327.0,476.1 1327.4,472.7 1327.8,469.0 1328.2,482.7 1328.6,467.8 1329.0,466.4 1329.4,477.7 1329.8,464.6 1330.2,479.3 1330.6,466.8 1331.0,471.1 1331.4,484.9 1331.8,475.0 1332.2,485.5 1332.6,476.1 1333.0,489.3 1333.4,491.7 1333.8,481.9 1334.2,493.1 1334.6,488.0 1335.0,490.0 1335.4,499.4 1335.8,492.1 1336.2,493.9 1336.6,507.6 1337.0,509.8 1337.4,498.7 1337.8,509.1 1338.2,500.2 1338.6,516.6 1339.0,521.9 1339.4,508.2 1339.8,525.7 1340.2,519.8 1340.6,535.1 1341.0,521.5 1341.4,539.4 1341.8,541.6 1342.2,540.5 1342.6,543.6 1343.0,548.4 1343.4,534.6 1343.8,538.8 1344.2,540.1 1344.6,537.9 1345.0,550.5 1345.4,540.9 1345.8,550.7 1346.2,539.4 1346.6,537.1 1347.0,547.9 1347.4,533.7 1347.8,545.3 1348.2,532.5 1348.6,545.1 1349.0,545.1 1349.4,530.7 1349.8,528.8 1350.2,542.6 1350.6,534.4 1351.0,544.1 1351.4,541.0 1351.8,529.1 1352.2,526.8 1352.6,541.2 1353.0,528.7 1353.4,538.2 1353.8,525.6 1354.2,534.5 1354.6,526.8 1355.0,532.3 1355.4,521.3 1355.8,536.1 1356.2,521.1 1356.6,522.0 1357.0,518.1 1357.4,531.9 1357.8,522.0 1358.2,535.0 1358.6,521.1 1359.0,522.0 1359.4,534.8 1359.8,535.8 1360.2,539.2 1360.6,530.7 1361.0,540.3 1361.4,533.4 1361.8,545.3 1362.2,537.1 1362.6,537.4 1363.0,550.7 1363.4,535.7 1363.8,547.5 1364.2,539.2 1364.6,551.6 1365.0,542.0 1365.4,552.2 1365.8,536.5 1366.2,551.6 1366.6,535.4 1367.0,549.6 1367.4,533.8 1367.8,547.0 1368.2,532.3 1368.6,539.0 1369.0,530.0 1369.4,540.9 1369.8,526.9 1370.2,522.9 1370.6,534.6 1371.0,537.4 1371.4,535.9 1371.8,531.2 1372.2,522.5 1372.6,531.2 1373.0,523.4 1373.4,533.2 1373.8,527.1 1374.2,543.0 1374.6,538.7 1375.0,530.1 1375.4,534.8 1375.8,550.7 1376.2,540.2 1376.6,551.9 1377.0,541.2 1377.4,558.4 1377.8,547.5 1378.2,549.9 1378.6,551.0 1379.0,564.9 1379.4,570.2 1379.8,570.6 1380.2,573.9 1380.6,564.7 1381.0,575.9 1381.4,560.1 1381.8,578.7 1382.2,565.9 1382.6,573.9 1383.0,566.1 1383.4,578.5 1383.8,563.4 1384.2,576.4 1384.6,564.0 1385.0,565.0 1385.4,559.7 1385.8,570.0 1386.2,562.3 1386.6,570.3 1387.0,556.5 1387.4,567.6 1387.8,555.8 1388.2,572.2 1388.6,560.1 1389.0,573.4 1389.4,563.7 1389.8,564.3 1390.2,562.5 1390.6,577.4 1391.0,579.7 1391.4,580.5 1391.8,567.6 1392.2,584.2 1392.6,573.5 1393.0,585.6 1393.4,570.5 1393.8,584.1 1394.2,575.3 1394.6,575.8 1395.0,588.6 1395.4,574.2 1395.8,588.5 1396.2,577.3 1396.6,584.1 1397.0,583.6 1397.4,571.3 1397.8,587.3 1398.2,571.1 1398.6,587.1 1399.0,576.9 1399.4,570.6 1399.8,589.2 1400.2,588.4 1400.6,572.4 1401.0,589.5 1401.4,570.5 1401.8,583.0 1402.2,584.3 1402.6,572.3 1403.0,569.1 1403.4,569.2 1403.8,580.1 1404.2,570.9 1404.6,578.6 1405.0,562.5 1405.4,571.9 1405.8,561.9 1406.2,570.0 1406.6,557.1 1407.0,564.9 1407.4,555.4 1407.8,564.0 1408.2,567.1 1408.6,560.4 1409.0,552.5 1409.4,563.4 1409.8,546.9 1410.2,565.1 1410.6,559.8 1411.0,559.2 1411.4,549.5 1411.8,561.7 1412.2,565.0 1412.6,556.7 1413.0,567.8 1413.4,557.2 1413.8,569.8 1414.2,553.3 1414.6,571.8 1415.0,557.4 1415.4,566.5 1415.8,555.2 1416.2,567.7 1416.6,559.3 1417.0,569.7 1417.4,554.0 1417.8,567.8 1418.2,557.7 1418.6,571.2 1419.0,567.0 1419.4,556.1 1419.8,570.5 1420.2,560.7 1420.6,564.8 1421.0,578.8 1421.4,564.2 1421.8,581.5 1422.2,568.6 1422.6,579.7 1423.0,572.6 1423.4,572.9 1423.8,588.1 1424.2,587.4 1424.6,578.9 1425.0,576.2 1425.4,592.9 1425.8,591.3 1426.2,578.9 1426.6,587.6 1427.0,588.2 1427.4,587.5 1427.8,585.7 1428.2,570.6 1428.6,583.6 1429.0,566.1 1429.4,579.2 1429.8,573.8 1430.2,555.1 1430.6,564.0 1431.0,552.5 1431.4,557.7 1431.8,559.9 1432.2,539.3 1432.6,549.6 1433.0,532.1 1433.4,530.3 1433.8,544.0 1434.2,528.3 1434.6,534.7 1435.0,522.5 1435.4,521.7 1435.8,530.7 1436.2,513.2 1436.6,524.0 1437.0,512.8 1437.4,512.9 1437.8,521.5 1438.2,511.4 1438.6,522.0 1439.0,520.3 1439.4,501.3 1439.8,518.5 1440.2,515.9 1440.6,510.2 1441.0,501.2 1441.4,511.0 1441.8,497.2 1442.2,505.2 1442.6,495.6 1443.0,510.9 1443.4,499.6 1443.8,509.6 1444.2,496.0 1444.6,506.2 1445.0,494.8 1445.4,511.4 1445.8,495.0 1446.2,504.1 1446.6,493.7 1447.0,492.2 1447.4,502.7 1447.8,492.6 1448.2,493.5 1448.6,490.8 1449.0,501.9 1449.4,492.2 1449.8,500.2 1450.2,498.0 1450.6,501.9 1451.0,486.9 1451.4,499.9 1451.8,482.9 1452.2,494.8 1452.6,501.4 1453.0,484.7 1453.4,497.0 1453.8,490.6 1454.2,504.9 1454.6,505.1 1455.0,502.4 1455.4,506.6 1455.8,511.3 1456.2,499.7 1456.6,501.7 1457.0,507.4 1457.4,508.9 1457.8,521.2 1458.2,525.1 1458.6,526.8 1459.0,517.5 1459.4,532.6 1459.8,525.3 1460.2,540.1 1460.6,530.1 1461.0,543.1 1461.4,545.9 1461.8,531.5 1462.2,546.0 1462.6,534.5 1463.0,543.9 1463.4,534.2 1463.8,546.6 1464.2,530.3 1464.6,539.1 1465.0,526.6 1465.4,538.8 1465.8,522.5 1466.2,532.1 1466.6,535.7 1467.0,522.0 1467.4,531.9 1467.8,527.4 1468.2,514.4 1468.6,521.7 1469.0,520.8 1469.4,510.4 1469.8,509.9 1470.2,523.2 1470.6,507.5 1471.0,508.1 1471.4,508.3 1471.8,504.8 1472.2,517.9 1472.6,519.0 1473.0,503.9 1473.4,503.5 1473.8,518.3 1474.2,503.6 1474.6,503.0 1475.0,517.2 1475.4,508.7 1475.8,522.1 1476.2,504.4 1476.6,520.8 1477.0,508.1 1477.4,518.2 1477.8,519.6 1478.2,511.2 1478.6,521.5 1479.0,506.2 1479.4,520.9 1479.8,509.6 1480.2,519.9 1480.6,508.8 1481.0,522.6 1481.4,510.4 1481.8,517.9 1482.2,506.8 1482.6,518.9 1483.0,518.9 1483.4,504.5 1483.8,518.6 1484.2,509.9 1484.6,522.4 1485.0,511.9 1485.4,525.6 1485.8,522.4 1486.2,515.7 1486.6,525.4 1487.0,515.2 1487.4,527.1 1487.8,520.9 1488.2,517.7 1488.6,529.5 1489.0,519.7 1489.4,521.6 1489.8,531.6 1490.2,520.8 1490.6,519.0 1491.0,531.6 1491.4,523.6 1491.8,530.0 1492.2,522.6 1492.6,519.3 1493.0,529.9 1493.4,516.7 1493.8,527.6 1494.2,528.1 1494.6,524.7 1495.0,521.4 1495.4,521.8 1495.8,523.1 1496.2,503.4 1496.6,519.4 1497.0,515.4 1497.4,501.5 1497.8,502.1 1498.2,508.8 1498.6,513.3 1499.0,498.9 1499.4,501.2 1499.8,515.1 1500.2,500.4 1500.6,514.6 1501.0,499.5 1501.4,515.4 1501.8,502.4 1502.2,516.6 1502.6,518.5 1503.0,510.4 1503.4,512.1 1503.8,510.0 1504.2,524.9 1504.6,518.1 1505.0,531.8 1505.4,520.0 1505.8,531.8 1506.2,522.3 1506.6,525.6 1507.0,542.2 1507.4,528.2 1507.8,542.0 1508.2,544.4 1508.6,532.9 1509.0,553.0 1509.4,539.7 1509.8,554.1 1510.2,547.7 1510.6,548.3 1511.0,559.3 1511.4,562.1 1511.8,565.5 1512.2,554.5 1512.6,559.7 1513.0,569.4 1513.4,559.8 1513.8,573.3 1514.2,567.4 1514.6,565.7 1515.0,567.2 1515.4,581.5 1515.8,569.8 1516.2,583.5 1516.6,568.5 1517.0,567.5 1517.4,580.0 1517.8,573.8 1518.2,564.0 1518.6,559.9 1519.0,557.9 1519.4,568.8 1519.8,557.1 1520.2,567.1 1520.6,555.0 1521.0,565.4 1521.4,557.9 1521.8,566.4 1522.2,559.0 1522.6,566.8 1523.0,555.9 1523.4,569.5 1523.8,559.4 1524.2,570.4 1524.6,566.5 1525.0,556.9 1525.4,555.2 1525.8,570.1 1526.2,562.9 1526.6,549.5 1527.0,552.6 1527.4,546.8 1527.8,559.4 1528.2,542.9 1528.6,557.9 1529.0,544.7 1529.4,553.9 1529.8,540.9 1530.2,551.8 1530.6,539.8 1531.0,537.6 1531.4,545.5 1531.8,536.6 1532.2,548.3 1532.6,534.9 1533.0,546.0 1533.4,536.0 1533.8,551.2 1534.2,537.2 1534.6,550.3 1535.0,535.9 1535.4,536.3 1535.8,548.3 1536.2,533.3 1536.6,544.5 1537.0,536.3 1537.4,544.0 1537.8,533.8 1538.2,538.1 1538.6,550.4 1539.0,547.7 1539.4,552.6 1539.8,551.5 1540.2,542.7 1540.6,555.0 1541.0,539.2 1541.4,550.9 1541.8,541.9 1542.2,539.0 1542.6,537.9 1543.0,551.6 1543.4,541.2 1543.8,557.5 1544.2,548.1 1544.6,561.9 1545.0,549.1 1545.4,563.9 1545.8,563.5 1546.2,569.5 1546.6,555.0 1547.0,571.9 1547.4,563.0 1547.8,571.8 1548.2,561.6 1548.6,566.5 1549.0,581.1 1549.4,565.3 1549.8,568.9 1550.2,572.4 1550.6,572.9 1551.0,586.3 1551.4,587.4 1551.8,585.3 1552.2,580.6 1552.6,571.2 1553.0,580.4 1553.4,570.4 1553.8,579.1 1554.2,566.5 1554.6,580.6 1555.0,580.9 1555.4,573.4 1555.8,587.2 1556.2,584.0 1556.6,573.2 1557.0,589.2 1557.4,577.7 1557.8,589.7 1558.2,577.3 1558.6,586.7 1559.0,578.1 1559.4,577.9 1559.8,577.1 1560.2,591.1 1560.6,580.2 1561.0,596.0 1561.4,595.4 1561.8,590.1 1562.2,591.6 1562.6,578.9 1563.0,578.9 1563.4,591.7 1563.8,580.2 1564.2,583.9 1564.6,593.4 1565.0,581.3 1565.4,585.5 1565.8,585.1 1566.2,598.3 1566.6,587.2 1567.0,595.4 1567.4,583.2 1567.8,595.7 1568.2,597.8 1568.6,586.2 1569.0,601.2 1569.4,584.6 1569.8,598.7 1570.2,584.8 1570.6,592.6 1571.0,581.8 1571.4,588.5 1571.8,578.7 1572.2,578.6 1572.6,594.6 1573.0,579.7 1573.4,579.0 1573.8,596.7 1574.2,583.2 1574.6,597.2 1575.0,592.6 1575.4,598.0 1575.8,587.0 1576.2,600.1 1576.6,587.9 1577.0,602.8 1577.4,601.2 1577.8,589.9 1578.2,602.2 1578.6,589.1 1579.0,600.4 1579.4,585.2 1579.8,601.2 1580.2,587.4 1580.6,598.2 1581.0,599.7 1581.4,598.6 1581.8,587.0 1582.2,589.3 1582.6,590.8 1583.0,608.0 1583.4,608.0 1583.8,596.4 1584.2,610.6 1584.6,597.8 1585.0,614.1 1585.4,602.2 1585.8,604.0 1586.2,615.3 1586.6,607.1 1587.0,611.4 1587.4,619.7 1587.8,604.0 1588.2,615.5 1588.6,602.2 1589.0,618.2 1589.4,614.1 1589.8,600.4 1590.2,613.9 1590.6,601.1 1591.0,604.1 1591.4,605.1 1591.8,605.8 1592.2,612.9 1592.6,599.6 1593.0,601.1 1593.4,615.4 1593.8,599.9 1594.2,619.3 1594.6,604.6 1595.0,604.0 1595.4,619.9 1595.8,609.8 1596.2,623.1 1596.6,613.9 1597.0,623.0 1597.4,610.0 1597.8,626.7 1598.2,623.6 1598.6,612.1 1599.0,626.6 1599.4,618.3 1599.8,628.9 1600.2,618.1 1600.6,625.5 1601.0,638.2 1601.4,638.0 1601.8,626.9 1602.2,638.8 1602.6,630.0 1603.0,643.4 1603.4,630.5 1603.8,646.4 1604.2,646.5 1604.6,632.3 1605.0,646.4 1605.4,630.2 1605.8,644.1 1606.2,629.5 1606.6,637.8 1607.0,641.3 1607.4,625.1 1607.8,634.3 1608.2,620.4 1608.6,626.9 1609.0,615.9 1609.4,621.7 1609.8,610.0 1610.2,618.3 1610.6,606.4 1611.0,616.9 1611.4,606.9 1611.8,615.5 1612.2,600.7 1612.6,603.9 1613.0,615.8 1613.4,608.1 1613.8,620.5 1614.2,608.6 1614.6,628.1 1615.0,612.7 1615.4,628.1 1615.8,618.3 1616.2,625.1 1616.6,627.4 1617.0,640.8 1617.4,633.3 1617.8,646.7 1618.2,635.7 1618.6,651.2 1619.0,639.5 1619.4,653.8 1619.8,643.3 1620.2,656.4 1620.6,657.6 1621.0,644.7 1621.4,655.8 1621.8,644.7 1622.2,644.8 1622.6,653.3 1623.0,652.5 1623.4,637.4 1623.8,638.0 1624.2,649.8 1624.6,637.7 1625.0,649.2 1625.4,635.2 1625.8,648.1 1626.2,648.7 1626.6,631.9 1627.0,648.5 1627.4,636.8 1627.8,651.3 1628.2,637.8 1628.6,653.3 1629.0,654.2 1629.4,638.2 1629.8,638.2 1630.2,653.4 1630.6,644.5 1631.0,659.0 1631.4,650.0 1631.8,659.6 1632.2,664.9 1632.6,663.7 1633.0,650.5 1633.4,650.0 1633.8,652.5 1634.2,650.7 1634.6,665.4 1635.0,650.6 1635.4,647.7 1635.8,664.5 1636.2,664.2 1636.6,647.0 1637.0,648.2 1637.4,651.9 1637.8,666.2 1638.2,651.9 1638.6,654.4 1639.0,669.2 1639.4,661.4 1639.8,673.8 1640.2,661.0 1640.6,676.4 1641.0,680.0 1641.4,686.2 1641.8,670.3 1642.2,690.2 1642.6,679.8 1643.0,690.4 1643.4,679.9 1643.8,694.9 1644.2,683.3 1644.6,696.3 1645.0,688.0 1645.4,702.0 1645.8,686.3 1646.2,704.9 1646.6,690.0 1647.0,703.0 1647.4,700.2 1647.8,697.9 1648.2,686.9 1648.6,695.2 1649.0,684.2 1649.4,696.3 1649.8,689.8 1650.2,675.8 1650.6,688.2 1651.0,684.5 1651.4,674.4 1651.8,675.7 1652.2,685.6 1652.6,667.7 1653.0,682.3 1653.4,664.8 1653.8,679.4 1654.2,665.5 1654.6,663.3 1655.0,678.1 1655.4,666.7 1655.8,681.5 1656.2,665.8 1656.6,683.7 1657.0,674.5 1657.4,687.5 1657.8,676.4 1658.2,672.4 1658.6,690.8 1659.0,680.8 1659.4,681.5 1659.8,693.9 1660.2,683.4 1660.6,693.3 1661.0,700.0 1661.4,699.0 1661.8,687.4 1662.2,699.3 1662.6,696.5 1663.0,695.2 1663.4,697.4 1663.8,696.7 1664.2,694.6 1664.6,686.7 1665.0,682.0 1665.4,695.6 1665.8,681.8 1666.2,697.5 1666.6,684.8 1667.0,700.8 1667.4,703.9 1667.8,690.7 1668.2,702.8 1668.6,706.1 1669.0,695.0 1669.4,703.7 1669.8,709.7 1670.2,697.7 1670.6,700.1 1671.0,713.8 1671.4,717.7 1671.8,710.7 1672.2,724.5 1672.6,709.9 1673.0,729.7 1673.4,714.3 1673.8,730.8 1674.2,718.7 1674.6,722.1 1675.0,735.8 1675.4,735.5 1675.8,722.2 1676.2,720.6 1676.6,734.4 1677.0,719.4 1677.4,718.0 1677.8,721.4 1678.2,735.4 1678.6,719.9 1679.0,731.4 1679.4,720.8 1679.8,731.4 1680.2,720.5 1680.6,728.1 1681.0,713.4 1681.4,718.4 1681.8,727.1 1682.2,713.9 1682.6,716.1 1683.0,718.2 1683.4,730.5 1683.8,716.0 1684.2,719.3 1684.6,733.0 1685.0,721.8 1685.4,734.1 1685.8,728.4 1686.2,737.7 1686.6,737.1 1687.0,741.9" stroke-width="1.3"/><path d="M1093.3,1063.0 1094.8,1037.8 1097.9,1015.2 1099.4,985.2 1100.4,955.1 1101.6,925.1 1102.4,895.0 1103.1,880.0 1103.9,830.3 1105.4,792.7 1108.4,764.1 1109.9,773.2 1112.1,740.1 1114.4,713.8 1115.9,740.1 1117.4,785.2 1118.9,830.3 1120.7,869.3 1121.9,830.3 1123.4,785.2 1124.9,740.1 1126.0,680.0 1126.3,642.9 1127.5,586.5 1128.6,539.2" stroke-width="1.8"/><path d="M1128.6,539.2 1131.3,573.0 1133.5,541.4 1135.8,496.3 1137.4,440.0 1138.0,407.9 1140.3,367.4 1143.0,353.8 1145.9,376.4 1149.3,389.9 1152.7,419.2 1155.0,460.0 1157.7,523.4 1161.7,460.0 1162.8,396.7 1165.1,362.9 1168.0,407.9 1170.3,460.0 1171.4,482.8 1174.1,430.5 1176.8,340.3 1180.9,385.4 1184.3,437.2 1187.6,407.9 1193.3,374.1 1197.1,356.1 1200.5,374.1 1203.4,351.6 1207.2,290.7 1212.4,326.8 1218.1,241.1 1224.4,346.0 1228.9,268.2 1231.6,317.8 1235.0,387.6 1238.3,367.4 1244.0,426.0 1250.1,362.9 1255.3,421.5 1259.8,400.0 1263.1,419.2 1265.4,460.0 1267.2,469.3 1269.9,430.5 1272.8,388.8 1276.7,441.7 1278.2,460.0 1280.0,469.3 1283.4,487.3 1287.9,507.6 1291.3,523.4 1294.7,541.4 1299.2,525.6 1302.6,530.2 1306.0,514.4 1308.2,532.4 1311.6,514.4 1315.0,497.5 1318.4,514.4 1321.7,525.6 1325.1,491.8 1329.0,454.7 1333.0,491.8 1337.5,500.9 1332.4,490.2 1334.7,501.4 1337.6,492.4 1340.7,526.2 1344.3,567.9 1347.0,535.2 1348.9,527.3 1351.6,549.9 1354.9,522.8 1359.4,524.0 1361.7,537.5 1365.1,560.0 1368.5,535.2 1372.3,512.7 1375.2,537.5 1378.2,562.3 1380.9,571.3 1384.2,580.3 1387.2,551.0 1389.9,562.3 1393.9,592.7 1397.8,571.3 1401.6,587.1 1404.5,578.1 1407.5,553.3 1410.6,546.5 1414.7,575.8 1418.7,548.8 1421.4,571.3 1425.5,592.7 1428.2,587.1 1431.6,553.3 1434.5,517.2 1438.3,521.7 1442.2,490.2 1445.1,510.4 1448.5,499.2 1451.4,482.3 1454.8,494.7 1458.6,519.5 1462.4,556.6 1465.4,535.2 1469.2,503.7 1472.1,521.7 1475.1,502.6 1478.9,524.0 1483.4,503.7 1487.9,528.5 1492.4,533.0 1498.1,498.0 1502.1,505.9 1504.8,524.0 1508.2,539.7 1511.6,557.8 1513.8,569.0 1516.5,597.2 1520.6,535.2 1524.0,583.7 1528.5,546.5 1531.9,528.5 1534.6,557.8 1537.5,524.0 1539.8,557.8 1543.1,537.5 1546.5,562.3 1551.0,591.6 1554.4,562.3 1560.0,598.3 1563.9,573.6 1569.1,611.9 1572.0,564.5 1578.1,614.1 1581.0,573.6 1583.7,596.1 1587.1,634.4 1589.3,602.9 1593.2,600.6 1596.1,625.4 1599.5,611.9 1604.4,659.2 1608.5,620.9 1612.6,591.6 1615.3,620.1 1617.6,650.2 1621.3,665.2 1623.6,644.1 1625.8,629.1 1629.6,644.1 1632.6,671.2 1636.3,641.9 1639.4,665.2 1641.6,677.2 1643.9,695.2 1646.1,706.5 1649.1,687.7 1652.1,677.2 1655.1,660.7 1658.1,680.2 1661.1,705.8 1663.4,689.2 1665.6,678.7 1667.9,704.3 1670.2,684.7 1671.7,717.8 1674.4,747.1 1676.9,710.3 1679.2,737.3 1682.2,717.8 1684.4,705.0 1685.9,732.8 1687.0,755.3 1687.3,745.1" stroke-width="2.4"/><path d="M1687.3,745.1 1687.8,778.3 1686.8,842.2 1685.2,918.8 1682.2,982.7 1678.3,1021.0 1675.8,1063.1" stroke-width="1.8"/></g>
<g fill="none" stroke="#ed7d31" stroke-linejoin="round" stroke-linecap="round"><path d="M757.8,437.8 758.9,396.1 760.7,426.6 763.0,458.1 765.7,440.1 767.9,392.7 769.7,347.6 771.3,319.5 773.6,347.6 777.0,415.3 779.2,451.4 781.9,415.3 783.7,358.9 786.0,302.5 788.2,280.0 789.3,254.7 793.4,359.5 796.1,338.1 797.9,351.6 805.1,284.0 810.7,366.2 817.9,219.1 825.4,344.8 829.9,304.3 832.6,295.2 836.2,275.0 842.7,331.3 848.4,263.7 851.7,304.3 853.5,179.2 856.0,297.5 858.0,220.9 861.4,247.9 865.5,210.7 870.4,281.7 875.4,194.9 881.7,311.0 885.1,263.7 887.3,335.8 891.9,366.2 895.2,304.3 900.9,286.2 905.4,272.7 911.5,233.3 916.2,295.2 919.6,252.9 924.5,330.2 931.3,277.2 933.6,299.7 937.4,238.9 942.1,308.8 947.1,275.0 949.8,295.2 956.1,245.6 960.2,199.4 964.7,277.2 967.8,213.0 972.3,306.5 976.8,213.0 981.3,276.1 984.3,227.6 989.9,270.4 993.3,281.7 996.7,246.8 998.9,281.7 1003.9,218.6 1009.7,293.0 1014.2,254.7 1016.9,293.0 1021.0,254.7 1024.8,288.5 1027.8,270.4 1030.5,314.4 1035.0,256.9 1040.2,210.7 1044.4,256.9 1046.3,244.5 1049.6,299.7 1053.0,256.9 1054.8,286.2 1057.5,216.3 1060.3,272.7 1063.7,216.3 1065.9,268.2 1068.2,245.6 1071.6,227.6 1074.3,277.2 1077.9,227.6 1081.7,232.1 1085.1,254.7 1089.6,313.3 1093.0,254.7 1096.8,245.6 1101.3,308.8 1106.9,254.7 1109.9,299.7 1115.5,270.4 1118.9,290.7 1122.3,306.5 1123.8,329.0 1125.6,351.6 1128.4,367.4 1130.2,389.9" stroke-width="4.2" stroke-opacity="0.4"/><path d="M757.8,431.5 758.2,422.7 758.6,415.1 759.0,412.7 759.4,411.9 759.8,415.9 760.2,426.9 760.6,424.1 761.0,427.8 761.4,440.8 761.8,432.4 762.2,448.4 762.6,450.2 763.0,444.6 763.4,451.9 763.8,444.8 764.2,452.0 764.6,450.0 765.0,438.3 765.4,441.9 765.8,436.9 766.2,422.8 766.6,420.6 767.0,403.7 767.4,400.2 767.8,389.6 768.2,383.1 768.6,383.2 769.0,363.8 769.4,362.1 769.8,348.9 770.2,352.7 770.6,345.1 771.0,332.5 771.4,338.9 771.8,331.4 772.2,343.7 772.6,345.5 773.0,348.3 773.4,343.9 773.8,357.3 774.2,355.4 774.6,373.5 775.0,369.7 775.4,386.3 775.8,387.9 776.2,402.3 776.6,403.0 777.0,408.4 777.4,413.5 777.8,418.9 778.2,434.3 778.6,430.9 779.0,442.4 779.4,445.9 779.8,432.0 780.2,436.0 780.6,424.7 781.0,426.0 781.4,423.9 781.8,417.6 782.2,396.7 782.6,388.7 783.0,376.3 783.4,376.3 783.8,356.1 784.2,352.1 784.6,344.7 785.0,328.1 785.4,326.8 785.8,308.2 786.2,307.7 786.6,293.2 787.0,298.6 787.4,292.1 787.8,283.2 788.2,285.7 788.6,275.2 789.0,271.1 789.4,277.3 789.8,276.2 790.2,292.9 790.6,287.0 791.0,294.3 791.4,313.6 791.8,311.9 792.2,327.0 792.6,327.9 793.0,345.9 793.4,344.3 793.8,351.5 794.2,341.9 794.6,341.8 795.0,352.8 795.4,351.5 795.8,338.8 796.2,345.4 796.6,338.8 797.0,348.7 797.4,348.4 797.8,343.1 798.2,340.2 798.6,346.0 799.0,344.5 799.4,329.8 799.8,326.0 800.2,336.4 800.6,319.8 801.0,318.5 801.4,312.6 801.8,311.6 802.2,308.4 802.6,314.4 803.0,298.6 803.4,306.2 803.8,293.8 804.2,293.4 804.6,297.9 805.0,286.5 805.4,293.1 805.8,302.0 806.2,297.5 806.6,311.4 807.0,316.5 807.4,312.2 807.8,329.6 808.2,322.4 808.6,340.7 809.0,336.1 809.4,346.1 809.8,342.0 810.2,355.9 810.6,349.2 811.0,354.1 811.4,339.7 811.8,341.9 812.2,329.0 812.6,321.3 813.0,313.4 813.4,314.2 813.8,299.7 814.2,300.4 814.6,280.7 815.0,282.1 815.4,267.4 815.8,259.0 816.2,263.3 816.6,244.4 817.0,247.4 817.4,235.9 817.8,237.0 818.2,241.8 818.6,241.6 819.0,245.4 819.4,240.5 819.8,256.6 820.2,253.6 820.6,258.8 821.0,274.3 821.4,273.6 821.8,279.3 822.2,296.0 822.6,303.3 823.0,308.7 823.4,304.9 823.8,321.8 824.2,318.6 824.6,331.8 825.0,334.8 825.4,331.3 825.8,338.6 826.2,330.1 826.6,324.5 827.0,330.8 827.4,328.8 827.8,316.3 828.2,316.7 828.6,320.7 829.0,306.3 829.4,315.7 829.8,304.6 830.2,308.9 830.6,297.8 831.0,306.0 831.4,292.6 831.8,293.8 832.2,301.8 832.6,291.3 833.0,298.9 833.4,284.8 833.8,291.3 834.2,292.8 834.6,281.9 835.0,287.0 835.4,285.8 835.8,285.3 836.2,276.0 836.6,284.7 837.0,287.5 837.4,284.2 837.8,294.6 838.2,286.6 838.6,302.5 839.0,303.1 839.4,298.6 839.8,310.5 840.2,315.6 840.6,309.7 841.0,319.7 841.4,312.3 841.8,323.4 842.2,324.6 842.6,327.8 843.0,315.4 843.4,316.4 843.8,318.0 844.2,308.4 844.6,302.5 845.0,307.5 845.4,295.5 845.8,299.5 846.2,296.1 846.6,288.7 847.0,288.9 847.4,275.5 847.8,281.9 848.2,279.3 848.6,267.4 849.0,271.8 849.4,284.8 849.8,274.3 850.2,283.8 850.6,273.0 851.0,272.4 851.4,284.2 851.8,272.7 852.2,269.9 852.6,256.4 853.0,230.8 853.4,219.2 853.8,225.3 854.2,227.2 854.6,242.1 855.0,240.3 855.4,258.3 855.8,267.2 856.2,258.8 856.6,266.2 857.0,250.4 857.4,243.2 857.8,236.8 858.2,238.2 858.6,232.1 859.0,243.1 859.4,242.6 859.8,231.2 860.2,231.4 860.6,241.3 861.0,234.4 861.4,247.1 861.8,236.0 862.2,243.2 862.6,229.9 863.0,236.8 863.4,234.1 863.8,222.0 864.2,221.0 864.6,228.0 865.0,226.6 865.4,215.1 865.8,227.1 866.2,229.5 866.6,227.6 867.0,240.0 867.4,236.2 867.8,237.7 868.2,253.1 868.6,247.6 869.0,263.6 869.4,268.5 869.8,261.4 870.2,274.5 870.6,262.8 871.0,271.0 871.4,253.6 871.8,260.6 872.2,253.2 872.6,237.1 873.0,239.6 873.4,237.7 873.8,221.1 874.2,215.0 874.6,219.8 875.0,208.6 875.4,202.7 875.8,209.7 876.2,219.3 876.6,215.6 877.0,231.0 877.4,238.6 877.8,233.6 878.2,251.0 878.6,248.0 879.0,264.2 879.4,264.3 879.8,279.8 880.2,282.3 880.6,282.9 881.0,295.8 881.4,291.4 881.8,304.5 882.2,299.5 882.6,289.3 883.0,293.2 883.4,292.3 883.8,282.4 884.2,280.1 884.6,289.3 885.0,277.4 885.4,288.9 885.8,300.0 886.2,299.3 886.6,313.3 887.0,322.2 887.4,322.4 887.8,329.6 888.2,339.4 888.6,335.5 889.0,349.4 889.4,344.9 889.8,353.9 890.2,349.8 890.6,361.0 891.0,350.4 891.4,358.5 891.8,350.4 892.2,357.4 892.6,340.8 893.0,345.1 893.4,334.5 893.8,328.6 894.2,321.3 894.6,315.1 895.0,319.1 895.4,314.5 895.8,312.3 896.2,299.1 896.6,308.5 897.0,306.1 897.4,300.4 897.8,298.5 898.2,291.8 898.6,297.0 899.0,286.3 899.4,294.4 899.8,286.9 900.2,282.9 900.6,293.0 901.0,279.3 901.4,289.6 901.8,288.4 902.2,276.7 902.6,283.5 903.0,282.6 903.4,273.1 903.8,280.8 904.2,271.5 904.6,277.4 905.0,268.6 905.4,274.5 905.8,264.7 906.2,272.5 906.6,259.2 907.0,264.7 907.4,257.1 907.8,263.2 908.2,257.9 908.6,245.2 909.0,252.7 909.4,241.2 909.8,249.2 910.2,246.4 910.6,244.9 911.0,236.5 911.4,234.0 911.8,247.5 912.2,240.6 912.6,256.6 913.0,260.7 913.4,257.0 913.8,260.3 914.2,264.6 914.6,276.2 915.0,278.6 915.4,283.7 915.8,280.3 916.2,289.4 916.6,287.5 917.0,283.3 917.4,273.4 917.8,279.7 918.2,267.1 918.6,275.2 919.0,260.3 919.4,261.5 919.8,261.3 920.2,273.1 920.6,269.5 921.0,283.2 921.4,276.0 921.8,292.0 922.2,287.1 922.6,301.4 923.0,299.8 923.4,313.3 923.8,309.6 924.2,321.6 924.6,316.5 925.0,317.9 925.4,325.2 925.8,314.3 926.2,310.3 926.6,319.9 927.0,305.8 927.4,314.4 927.8,301.8 928.2,298.8 928.6,292.2 929.0,300.2 929.4,287.7 929.8,294.7 930.2,284.9 930.6,284.3 931.0,290.7 931.4,277.6 931.8,281.3 932.2,292.9 932.6,291.4 933.0,283.8 933.4,287.4 933.8,284.8 934.2,285.9 934.6,274.7 935.0,278.6 935.4,267.7 935.8,269.4 936.2,257.0 936.6,262.4 937.0,251.4 937.4,254.9 937.8,250.8 938.2,259.4 938.6,263.1 939.0,262.1 939.4,272.0 939.8,271.2 940.2,285.0 940.6,279.5 941.0,291.1 941.4,296.6 941.8,291.7 942.2,297.5 942.6,303.5 943.0,302.2 943.4,299.6 943.8,292.1 944.2,297.2 944.6,285.4 945.0,284.6 945.4,293.3 945.8,291.1 946.2,280.8 946.6,287.2 947.0,286.7 947.4,278.9 947.8,287.8 948.2,288.8 948.6,281.8 949.0,293.6 949.4,281.5 949.8,282.5 950.2,291.6 950.6,291.9 951.0,279.4 951.4,286.0 951.8,276.0 952.2,279.5 952.6,280.0 953.0,276.1 953.4,262.7 953.8,267.0 954.2,266.9 954.6,251.3 955.0,256.1 955.4,243.6 955.8,252.1 956.2,250.1 956.6,236.7 957.0,240.2 957.4,225.5 957.8,232.0 958.2,216.1 958.6,225.5 959.0,210.9 959.4,218.6 959.8,208.8 960.2,216.2 960.6,212.4 961.0,224.7 961.4,221.7 961.8,235.6 962.2,232.5 962.6,245.3 963.0,252.6 963.4,253.5 963.8,251.9 964.2,264.4 964.6,264.9 965.0,252.9 965.4,257.4 965.8,246.0 966.2,239.4 966.6,248.3 967.0,230.9 967.4,238.1 967.8,226.4 968.2,225.6 968.6,230.9 969.0,246.3 969.4,242.7 969.8,258.1 970.2,257.8 970.6,272.4 971.0,269.3 971.4,286.7 971.8,280.2 972.2,294.6 972.6,284.6 973.0,287.4 973.4,273.0 973.8,278.6 974.2,263.4 974.6,264.3 975.0,249.1 975.4,248.9 975.8,235.4 976.2,240.5 976.6,223.2 977.0,231.5 977.4,226.2 977.8,238.8 978.2,229.9 978.6,244.7 979.0,236.8 979.4,250.2 979.8,246.7 980.2,259.8 980.6,254.2 981.0,268.7 981.4,258.8 981.8,263.2 982.2,251.5 982.6,255.5 983.0,246.5 983.4,241.0 983.8,248.2 984.2,231.6 984.6,239.5 985.0,235.6 985.4,243.3 985.8,237.6 986.2,240.2 986.6,250.0 987.0,243.6 987.4,256.8 987.8,249.1 988.2,260.9 988.6,257.8 989.0,265.1 989.4,261.1 989.8,271.2 990.2,263.5 990.6,277.1 991.0,267.9 991.4,279.8 991.8,270.2 992.2,280.7 992.6,271.1 993.0,272.4 993.4,278.7 993.8,269.4 994.2,276.4 994.6,262.6 995.0,261.7 995.4,267.9 995.8,254.1 996.2,261.8 996.6,250.0 997.0,263.5 997.4,257.0 997.8,267.8 998.2,260.3 998.6,275.2 999.0,273.7 999.4,271.8 999.8,261.3 1000.2,264.4 1000.6,255.1 1001.0,258.7 1001.4,245.3 1001.8,241.0 1002.2,239.0 1002.6,242.7 1003.0,232.3 1003.4,227.4 1003.8,223.1 1004.2,236.7 1004.6,226.4 1005.0,231.6 1005.4,235.4 1005.8,249.3 1006.2,244.5 1006.6,259.6 1007.0,255.1 1007.4,268.7 1007.8,273.4 1008.2,266.2 1008.6,270.6 1009.0,272.6 1009.4,280.0 1009.8,288.1 1010.2,280.4 1010.6,277.7 1011.0,284.4 1011.4,273.3 1011.8,277.8 1012.2,266.2 1012.6,275.7 1013.0,275.2 1013.4,260.9 1013.8,262.0 1014.2,269.2 1014.6,261.8 1015.0,273.9 1015.4,268.8 1015.8,272.9 1016.2,272.4 1016.6,287.5 1017.0,279.8 1017.4,286.8 1017.8,274.3 1018.2,282.3 1018.6,270.3 1019.0,280.4 1019.4,265.1 1019.8,273.0 1020.2,262.8 1020.6,266.9 1021.0,255.6 1021.4,267.1 1021.8,263.1 1022.2,272.5 1022.6,273.6 1023.0,267.7 1023.4,277.9 1023.8,271.1 1024.2,283.6 1024.6,274.9 1025.0,288.0 1025.4,287.5 1025.8,275.4 1026.2,282.8 1026.6,274.1 1027.0,274.3 1027.4,281.2 1027.8,282.9 1028.2,285.8 1028.6,280.8 1029.0,295.4 1029.4,290.8 1029.8,303.1 1030.2,294.6 1030.6,298.8 1031.0,305.1 1031.4,294.2 1031.8,300.1 1032.2,286.8 1032.6,282.0 1033.0,288.5 1033.4,272.8 1033.8,278.0 1034.2,265.6 1034.6,267.2 1035.0,253.5 1035.4,257.2 1035.8,247.7 1036.2,252.9 1036.6,247.7 1037.0,235.5 1037.4,228.8 1037.8,225.2 1038.2,238.8 1038.6,222.9 1039.0,216.6 1039.4,217.1 1039.8,223.4 1040.2,211.6 1040.6,226.3 1041.0,230.7 1041.4,218.3 1041.8,238.7 1042.2,228.3 1042.6,228.3 1043.0,243.2 1043.4,233.5 1043.8,238.7 1044.2,257.6 1044.6,246.0 1045.0,247.1 1045.4,261.0 1045.8,244.2 1046.2,260.1 1046.6,261.7 1047.0,258.1 1047.4,271.3 1047.8,277.0 1048.2,269.4 1048.6,286.4 1049.0,279.6 1049.4,292.9 1049.8,278.5 1050.2,294.8 1050.6,279.4 1051.0,285.6 1051.4,271.3 1051.8,278.8 1052.2,264.9 1052.6,277.7 1053.0,259.3 1053.4,262.8 1053.8,275.0 1054.2,262.3 1054.6,266.8 1055.0,272.6 1055.4,254.3 1055.8,261.3 1056.2,245.0 1056.6,250.9 1057.0,232.8 1057.4,245.0 1057.8,226.6 1058.2,247.3 1058.6,238.8 1059.0,238.9 1059.4,255.6 1059.8,249.1 1060.2,267.2 1060.6,250.1 1061.0,259.1 1061.4,240.9 1061.8,253.9 1062.2,237.2 1062.6,247.4 1063.0,231.9 1063.4,238.0 1063.8,227.4 1064.2,242.5 1064.6,236.7 1065.0,252.5 1065.4,244.4 1065.8,258.7 1066.2,247.4 1066.6,247.8 1067.0,258.5 1067.4,256.8 1067.8,242.7 1068.2,249.6 1068.6,238.8 1069.0,251.1 1069.4,234.3 1069.8,246.5 1070.2,232.0 1070.6,243.3 1071.0,231.6 1071.4,231.2 1071.8,248.8 1072.2,252.8 1072.6,239.9 1073.0,258.7 1073.4,248.2 1073.8,263.7 1074.2,256.0 1074.6,268.3 1075.0,251.4 1075.4,263.1 1075.8,248.9 1076.2,246.1 1076.6,250.7 1077.0,234.1 1077.4,243.1 1077.8,240.2 1078.2,238.3 1078.6,239.7 1079.0,227.5 1079.4,225.6 1079.8,221.5 1080.2,234.3 1080.6,224.1 1081.0,237.9 1081.4,229.2 1081.8,226.7 1082.2,242.6 1082.6,245.8 1083.0,250.9 1083.4,236.6 1083.8,250.8 1084.2,255.9 1084.6,245.2 1085.0,262.6 1085.4,250.8 1085.8,262.0 1086.2,261.7 1086.6,282.9 1087.0,275.7 1087.4,290.5 1087.8,281.6 1088.2,300.3 1088.6,286.5 1089.0,307.6 1089.4,292.9 1089.8,307.7 1090.2,287.7 1090.6,294.1 1091.0,281.1 1091.4,278.0 1091.8,279.6 1092.2,267.6 1092.6,259.4 1093.0,268.1 1093.4,251.2 1093.8,259.0 1094.2,247.5 1094.6,245.8 1095.0,259.4 1095.4,259.6 1095.8,245.3 1096.2,242.2 1096.6,261.4 1097.0,248.9 1097.4,264.3 1097.8,256.3 1098.2,270.3 1098.6,268.3 1099.0,285.0 1099.4,285.9 1099.8,281.8 1100.2,299.6 1100.6,285.5 1101.0,303.2 1101.4,289.7 1101.8,290.9 1102.2,299.8 1102.6,284.3 1103.0,297.0 1103.4,284.7 1103.8,294.1 1104.2,275.9 1104.6,285.8 1105.0,271.1 1105.4,262.6 1105.8,278.4 1106.2,262.0 1106.6,271.1 1107.0,259.6 1107.4,272.8 1107.8,264.2 1108.2,279.0 1108.6,269.9 1109.0,291.9 1109.4,282.9 1109.8,296.7 1110.2,286.1 1110.6,299.5 1111.0,285.7 1111.4,294.5 1111.8,280.1 1112.2,294.4 1112.6,279.6 1113.0,276.2 1113.4,285.2 1113.8,275.0 1114.2,287.2 1114.6,272.1 1115.0,279.8 1115.4,279.8 1115.8,283.2 1116.2,285.6 1116.6,273.9 1117.0,287.7 1117.4,278.3 1117.8,289.2 1118.2,278.2 1118.6,292.8 1119.0,283.0 1119.4,297.2 1119.8,289.1 1120.2,290.0 1120.6,302.9 1121.0,309.8 1121.4,295.1 1121.8,316.5 1122.2,304.3 1122.6,317.1 1123.0,311.1 1123.4,330.2 1123.8,318.8 1124.2,335.9 1124.6,346.8 1125.0,331.8 1125.4,349.1 1125.8,345.7 1126.2,358.7 1126.6,359.4 1127.0,369.1 1127.4,356.3 1127.8,360.1 1128.2,373.5 1128.6,375.7 1129.0,372.5 1129.4,376.8 1129.8,380.9" stroke-width="1.3"/><path d="M714.9,1062.7 719.5,1048.0 725.1,1030.0 728.5,1014.2 730.1,991.7 730.7,957.8 731.4,912.7 731.9,867.6 732.1,822.5 732.3,788.0 733.0,720.4 733.7,675.3 734.8,637.0 737.5,648.2 740.4,673.0 743.1,630.2 745.8,564.8 748.1,607.6 749.9,675.3 751.5,712.5 752.6,675.3 753.7,630.2 755.1,585.1 756.0,540.0 756.7,505.5 757.8,437.8" stroke-width="1.8"/><path d="M757.8,437.8 758.9,396.1 760.7,426.6 763.0,458.1 765.7,440.1 767.9,392.7 769.7,347.6 771.3,319.5 773.6,347.6 777.0,415.3 779.2,451.4 781.9,415.3 783.7,358.9 786.0,302.5 788.2,280.0 789.3,254.7 793.4,359.5 796.1,338.1 797.9,351.6 805.1,284.0 810.7,366.2 817.9,219.1 825.4,344.8 829.9,304.3 832.6,295.2 836.2,275.0 842.7,331.3 848.4,263.7 851.7,304.3 853.5,179.2 856.0,297.5 858.0,220.9 861.4,247.9 865.5,210.7 870.4,281.7 875.4,194.9 881.7,311.0 885.1,263.7 887.3,335.8 891.9,366.2 895.2,304.3 900.9,286.2 905.4,272.7 911.5,233.3 916.2,295.2 919.6,252.9 924.5,330.2 931.3,277.2 933.6,299.7 937.4,238.9 942.1,308.8 947.1,275.0 949.8,295.2 956.1,245.6 960.2,199.4 964.7,277.2 967.8,213.0 972.3,306.5 976.8,213.0 981.3,276.1 984.3,227.6 989.9,270.4 993.3,281.7 996.7,246.8 998.9,281.7 1003.9,218.6 1009.7,293.0 1014.2,254.7 1016.9,293.0 1021.0,254.7 1024.8,288.5 1027.8,270.4 1030.5,314.4 1035.0,256.9 1040.2,210.7 1044.4,256.9 1046.3,244.5 1049.6,299.7 1053.0,256.9 1054.8,286.2 1057.5,216.3 1060.3,272.7 1063.7,216.3 1065.9,268.2 1068.2,245.6 1071.6,227.6 1074.3,277.2 1077.9,227.6 1081.7,232.1 1085.1,254.7 1089.6,313.3 1093.0,254.7 1096.8,245.6 1101.3,308.8 1106.9,254.7 1109.9,299.7 1115.5,270.4 1118.9,290.7 1122.3,306.5 1123.8,329.0 1125.6,351.6 1128.4,367.4 1130.2,389.9" stroke-width="2.4"/><path d="M1130.2,389.9 1131.3,407.9 1132.0,430.5 1131.7,460.0 1130.8,485.1 1129.7,530.2 1128.4,597.8 1127.0,665.4 1125.6,725.1 1124.1,770.2 1122.6,815.2 1121.1,860.3 1120.4,880.0 1118.1,910.1 1116.3,940.1 1114.8,967.2 1112.1,976.2 1114.4,994.2 1109.9,1004.7 1106.9,1018.2 1104.3,1031.8 1105.4,1040.8 1102.4,1052.8 1100.1,1043.8 1097.9,1052.8 1094.8,1063.0" stroke-width="1.8"/></g>
<g class="t"><text x="227.4" y="1173.5" text-anchor="middle">0</text><text x="447.1" y="1173.5" text-anchor="middle">5</text><text x="666.7" y="1173.5" text-anchor="middle">10</text><text x="886.4" y="1173.5" text-anchor="middle">15</text><text x="1106.0" y="1173.5" text-anchor="middle">20</text><text x="1325.7" y="1173.5" text-anchor="middle">25</text><text x="1545.3" y="1173.5" text-anchor="middle">30</text><text x="1765.0" y="1173.5" text-anchor="middle">35</text><text x="163" y="1079.5" text-anchor="end">0</text><text x="163" y="878.1" text-anchor="end">1</text><text x="163" y="676.7" text-anchor="end">2</text><text x="163" y="475.3" text-anchor="end">3</text><text x="163" y="273.9" text-anchor="end">4</text><text x="163" y="72.5" text-anchor="end">5</text></g>
<text class="a" x="992.5" y="1277.5" text-anchor="middle" letter-spacing="1.9">Displacement [mm]</text>
<text class="a" transform="translate(88.5 568.5) rotate(-90)" text-anchor="middle" letter-spacing="1.8">Load [kN]</text>
<g fill="none" stroke-width="2">
<path d="M1585 121H1638" stroke="#5b9bd5"/>
<path d="M1585 206H1638" stroke="#ed7d31"/>
<path d="M1585 288.5H1638" stroke="#a5a5a5"/>
</g>
<g class="t">
<text x="1642.5" y="138.8" letter-spacing="2.8">1st</text>
<text x="1641.5" y="222.6" letter-spacing="4.4">2nd</text>
<text x="1641.5" y="306.6" letter-spacing="4.3">3rd</text>
</g>
</svg>
</body></html>
